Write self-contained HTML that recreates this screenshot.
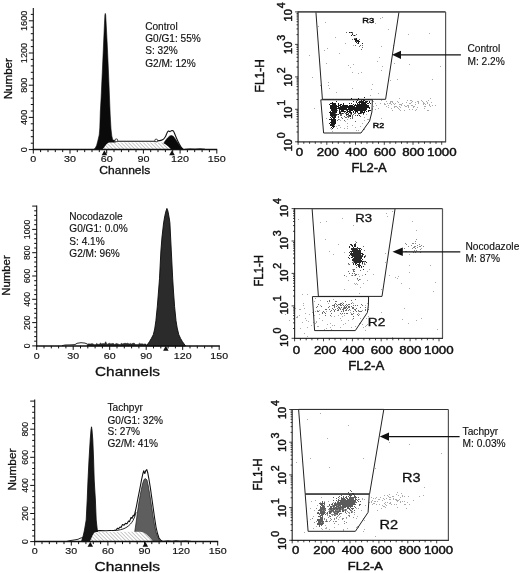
<!DOCTYPE html>
<html><head><meta charset="utf-8"><style>
html,body{margin:0;padding:0;background:#fff;}
body{width:520px;height:573px;overflow:hidden;}
svg{display:block;font-family:"Liberation Sans",sans-serif;filter:blur(0.35px);}
text{fill:#111;stroke:#111;stroke-width:0.15px;}
.b{stroke-width:0.45px;}
.m{stroke-width:0.3px;}
</style></head><body>
<svg width="520" height="573" viewBox="0 0 520 573">
<rect width="520" height="573" fill="#fff"/>
<defs>
<pattern id="h1" patternUnits="userSpaceOnUse" width="2.6" height="2.6" patternTransform="rotate(-45)"><rect width="2.6" height="2.6" fill="#fff"/><line x1="0" y1="0" x2="0" y2="2.6" stroke="#666" stroke-width="0.7"/></pattern>
</defs>
<polygon points="93.5,149.6 95.2,148.2 96.6,145.5 97.8,141 99.2,135 99.8,128 100.3,112 101.1,98 102.3,72 103.5,45 104.4,25 104.9,15 105.3,13.4 105.7,15 106.4,28 107.5,50 108.6,75 109.6,100 110.2,115 111,129 111.8,136 112.7,139.8 114,141 116,143 118,146 120,149.6" fill="#0a0a0a" stroke="#0a0a0a" stroke-width="0.6"/>
<polygon points="162,149.6 163.5,143.5 165.5,140.5 167.5,138 169.7,136 171.5,135.5 173.3,136.3 175,138.5 177,141.5 179,144.5 181,147.2 183.5,149.6" fill="#0a0a0a" stroke="#0a0a0a" stroke-width="0.6"/>
<polygon points="102.3,149.6 104,147.5 105.8,145 107.5,143.3 109,142.6 162,142.6 165,144 168,146.2 170,148.2 171.5,149.6" fill="url(#h1)" stroke="none" stroke-width="1"/>
<path d="M112.5,140.2 C112.8,140.3 113.6,140.4 114.5,140.6 C115.4,140.8 116.4,141.1 118,141.2 C119.6,141.3 120.3,141.2 124,141.2 C127.7,141.2 135.3,141.2 140,141.2 C144.7,141.2 149.1,141.2 152,141.2 C154.9,141.1 156,141 157.5,140.9 C159,140.8 160,140.7 161,140.4 C162,140.1 162.8,139.8 163.5,139.2 C164.2,138.5 164.9,137.5 165.5,136.5 C166.1,135.5 166.5,133.9 167,133 C167.5,132.1 167.9,131.2 168.4,131 C168.9,130.8 169.5,131.7 170,131.6 C170.5,131.5 170.9,130.8 171.5,130.7 C172.1,130.6 172.8,130.4 173.3,130.9 C173.8,131.4 174.2,132.5 174.6,133.5 C175,134.5 175.5,135.8 176,137 C176.5,138.2 177.2,139.8 177.8,141 C178.4,142.2 179,143.4 179.6,144.5 C180.2,145.6 180.7,146.5 181.3,147.3 C181.9,148.1 182.5,148.8 183,149.2 C183.5,149.6 184.2,149.5 184.5,149.6" fill="none" stroke="#111" stroke-width="1.1"/>
<circle cx="116.3" cy="140.3" r="1.4" fill="#fff" stroke="#111" stroke-width="0.8"/>
<circle cx="156.2" cy="140.5" r="1.4" fill="#fff" stroke="#111" stroke-width="0.8"/>
<polyline points="185,149.3 190,148.8 195,149.1 200,148.7 205,149.2" fill="none" stroke="#111" stroke-width="0.8" stroke-linejoin="round"/>
<line x1="33.3" y1="8" x2="33.3" y2="150.1" stroke="#111" stroke-width="1.1"/>
<line x1="28.8" y1="149.6" x2="33.3" y2="149.6" stroke="#111" stroke-width="1"/>
<line x1="30.8" y1="143.2" x2="33.3" y2="143.2" stroke="#111" stroke-width="1"/>
<line x1="30.8" y1="136.7" x2="33.3" y2="136.7" stroke="#111" stroke-width="1"/>
<line x1="30.8" y1="130.3" x2="33.3" y2="130.3" stroke="#111" stroke-width="1"/>
<line x1="30.8" y1="123.8" x2="33.3" y2="123.8" stroke="#111" stroke-width="1"/>
<line x1="28.8" y1="117.4" x2="33.3" y2="117.4" stroke="#111" stroke-width="1"/>
<line x1="30.8" y1="111" x2="33.3" y2="111" stroke="#111" stroke-width="1"/>
<line x1="30.8" y1="104.5" x2="33.3" y2="104.5" stroke="#111" stroke-width="1"/>
<line x1="30.8" y1="98.1" x2="33.3" y2="98.1" stroke="#111" stroke-width="1"/>
<line x1="30.8" y1="91.6" x2="33.3" y2="91.6" stroke="#111" stroke-width="1"/>
<line x1="28.8" y1="85.2" x2="33.3" y2="85.2" stroke="#111" stroke-width="1"/>
<line x1="30.8" y1="78.8" x2="33.3" y2="78.8" stroke="#111" stroke-width="1"/>
<line x1="30.8" y1="72.3" x2="33.3" y2="72.3" stroke="#111" stroke-width="1"/>
<line x1="30.8" y1="65.9" x2="33.3" y2="65.9" stroke="#111" stroke-width="1"/>
<line x1="30.8" y1="59.4" x2="33.3" y2="59.4" stroke="#111" stroke-width="1"/>
<line x1="28.8" y1="53" x2="33.3" y2="53" stroke="#111" stroke-width="1"/>
<line x1="30.8" y1="46.6" x2="33.3" y2="46.6" stroke="#111" stroke-width="1"/>
<line x1="30.8" y1="40.1" x2="33.3" y2="40.1" stroke="#111" stroke-width="1"/>
<line x1="30.8" y1="33.7" x2="33.3" y2="33.7" stroke="#111" stroke-width="1"/>
<line x1="30.8" y1="27.2" x2="33.3" y2="27.2" stroke="#111" stroke-width="1"/>
<line x1="28.8" y1="20.8" x2="33.3" y2="20.8" stroke="#111" stroke-width="1"/>
<line x1="30.8" y1="14.4" x2="33.3" y2="14.4" stroke="#111" stroke-width="1"/>
<line x1="32.8" y1="149.6" x2="217.2" y2="149.6" stroke="#111" stroke-width="1.5"/>
<line x1="33.3" y1="149.6" x2="33.3" y2="153.6" stroke="#111" stroke-width="1"/>
<line x1="40.6" y1="149.6" x2="40.6" y2="152.1" stroke="#111" stroke-width="1"/>
<line x1="48" y1="149.6" x2="48" y2="152.1" stroke="#111" stroke-width="1"/>
<line x1="55.3" y1="149.6" x2="55.3" y2="152.1" stroke="#111" stroke-width="1"/>
<line x1="62.7" y1="149.6" x2="62.7" y2="152.1" stroke="#111" stroke-width="1"/>
<line x1="70" y1="149.6" x2="70" y2="153.6" stroke="#111" stroke-width="1"/>
<line x1="77.3" y1="149.6" x2="77.3" y2="152.1" stroke="#111" stroke-width="1"/>
<line x1="84.7" y1="149.6" x2="84.7" y2="152.1" stroke="#111" stroke-width="1"/>
<line x1="92" y1="149.6" x2="92" y2="152.1" stroke="#111" stroke-width="1"/>
<line x1="99.3" y1="149.6" x2="99.3" y2="152.1" stroke="#111" stroke-width="1"/>
<line x1="106.7" y1="149.6" x2="106.7" y2="153.6" stroke="#111" stroke-width="1"/>
<line x1="114" y1="149.6" x2="114" y2="152.1" stroke="#111" stroke-width="1"/>
<line x1="121.4" y1="149.6" x2="121.4" y2="152.1" stroke="#111" stroke-width="1"/>
<line x1="128.7" y1="149.6" x2="128.7" y2="152.1" stroke="#111" stroke-width="1"/>
<line x1="136" y1="149.6" x2="136" y2="152.1" stroke="#111" stroke-width="1"/>
<line x1="143.4" y1="149.6" x2="143.4" y2="153.6" stroke="#111" stroke-width="1"/>
<line x1="150.7" y1="149.6" x2="150.7" y2="152.1" stroke="#111" stroke-width="1"/>
<line x1="158" y1="149.6" x2="158" y2="152.1" stroke="#111" stroke-width="1"/>
<line x1="165.4" y1="149.6" x2="165.4" y2="152.1" stroke="#111" stroke-width="1"/>
<line x1="172.7" y1="149.6" x2="172.7" y2="152.1" stroke="#111" stroke-width="1"/>
<line x1="180.1" y1="149.6" x2="180.1" y2="153.6" stroke="#111" stroke-width="1"/>
<line x1="187.4" y1="149.6" x2="187.4" y2="152.1" stroke="#111" stroke-width="1"/>
<line x1="194.7" y1="149.6" x2="194.7" y2="152.1" stroke="#111" stroke-width="1"/>
<line x1="202.1" y1="149.6" x2="202.1" y2="152.1" stroke="#111" stroke-width="1"/>
<line x1="209.4" y1="149.6" x2="209.4" y2="152.1" stroke="#111" stroke-width="1"/>
<line x1="216.8" y1="149.6" x2="216.8" y2="153.6" stroke="#111" stroke-width="1"/>
<text x="33.3" y="161.8" font-size="8.8" textLength="6" lengthAdjust="spacingAndGlyphs" text-anchor="middle">0</text>
<text x="70" y="161.8" font-size="8.8" textLength="12" lengthAdjust="spacingAndGlyphs" text-anchor="middle">30</text>
<text x="106.7" y="161.8" font-size="8.8" textLength="12" lengthAdjust="spacingAndGlyphs" text-anchor="middle">60</text>
<text x="143.4" y="161.8" font-size="8.8" textLength="12" lengthAdjust="spacingAndGlyphs" text-anchor="middle">90</text>
<text x="180.1" y="161.8" font-size="8.8" textLength="18" lengthAdjust="spacingAndGlyphs" text-anchor="middle">120</text>
<text x="216.8" y="161.8" font-size="8.8" textLength="18" lengthAdjust="spacingAndGlyphs" text-anchor="middle">150</text>
<text transform="translate(26.8,149.6) rotate(-90)" text-anchor="middle" font-size="9.2" textLength="5.1" lengthAdjust="spacingAndGlyphs">0</text>
<text transform="translate(26.8,117.4) rotate(-90)" text-anchor="middle" font-size="9.2" textLength="15.3" lengthAdjust="spacingAndGlyphs">400</text>
<text transform="translate(26.8,85.2) rotate(-90)" text-anchor="middle" font-size="9.2" textLength="15.3" lengthAdjust="spacingAndGlyphs">800</text>
<text transform="translate(26.8,53) rotate(-90)" text-anchor="middle" font-size="9.2" textLength="20.4" lengthAdjust="spacingAndGlyphs">1200</text>
<text transform="translate(26.8,20.8) rotate(-90)" text-anchor="middle" font-size="9.2" textLength="20.4" lengthAdjust="spacingAndGlyphs">1600</text>
<polygon points="104.4,150.2 101.7,155.2 107.2,155.2" fill="#111" stroke="none" stroke-width="1"/>
<polygon points="172,150.2 169.2,155.2 174.8,155.2" fill="#111" stroke="none" stroke-width="1"/>
<text transform="translate(12.2,78.7) rotate(-90)" text-anchor="middle" font-size="11" textLength="41.2" lengthAdjust="spacingAndGlyphs" class="m">Number</text>
<text x="99.3" y="173.8" font-size="10.8" textLength="51" lengthAdjust="spacingAndGlyphs" class="m">Channels</text>
<text x="145.2" y="29.6" font-size="10.1">Control</text>
<text x="145.2" y="42.3" font-size="10.1">G0/G1: 55%</text>
<text x="145.2" y="54.4" font-size="10.1">S: 32%</text>
<text x="145.2" y="66.5" font-size="10.1">G2/M: 12%</text>
<polygon points="146.5,345.9 149.5,341.6 151.3,338.5 153.3,334.7 154.7,329 155.9,320.7 157.3,306.7 158.4,293 159.5,278.8 160.2,265 160.9,250.9 162,237 163.6,222.9 164.9,215.5 166,211 166.9,208.4 167.5,209.5 168.3,213 169.2,218 169.9,222.9 170.6,237 171.3,250.9 172,265 172.7,278.8 173.6,293 174.6,306.7 176,320.7 177.2,328 178.8,334.7 180.6,338.5 182.4,341.6 185.5,345.9" fill="#2b2b2b" stroke="#0a0a0a" stroke-width="0.9"/>
<polyline points="62,345.7 65,345 70,344.9 75,344.6 77,343.3 81,342.7 85,343.1 87.5,344.1" fill="none" stroke="#111" stroke-width="0.9" stroke-linejoin="round"/>
<polygon points="87,345.9 87.5,344.3 88.8,343.8 90.1,344.1 91.4,343.7 92.7,343.7 94,344.6 95.3,344.7 96.6,343.4 97.9,344.3 99.2,344.3 100.5,343.1 101.8,343.9 103.1,343.4 104.4,343.9 105.7,341.7 107,344.5 108.3,343.7 109.6,343.3 110.9,343.9 112.2,343.5 113.5,343.6 114.8,344.6 116.1,343.5 117.4,343.8 118.7,344.2 120,344.7 121.3,343.3 122.6,343.9 123.9,343.5 125.2,343.3 126.5,343.6 127.8,343.2 129.1,344.1 130.4,343.4 131.7,344 133,343.2 134.3,343.3 135.6,344.5 136.9,344.5 138.2,344.4 139.5,343.2 140.8,344 142.1,343.7 143.4,344.2 144.7,343.9 146,344.1 147,345.9" fill="#2a2a2a" stroke="#111" stroke-width="0.5"/>
<line x1="36.7" y1="205.5" x2="36.7" y2="346.4" stroke="#111" stroke-width="1.1"/>
<line x1="32.2" y1="345.9" x2="36.7" y2="345.9" stroke="#111" stroke-width="1"/>
<line x1="34.2" y1="341.2" x2="36.7" y2="341.2" stroke="#111" stroke-width="1"/>
<line x1="34.2" y1="336.6" x2="36.7" y2="336.6" stroke="#111" stroke-width="1"/>
<line x1="34.2" y1="331.9" x2="36.7" y2="331.9" stroke="#111" stroke-width="1"/>
<line x1="34.2" y1="327.3" x2="36.7" y2="327.3" stroke="#111" stroke-width="1"/>
<line x1="32.2" y1="322.6" x2="36.7" y2="322.6" stroke="#111" stroke-width="1"/>
<line x1="34.2" y1="317.9" x2="36.7" y2="317.9" stroke="#111" stroke-width="1"/>
<line x1="34.2" y1="313.3" x2="36.7" y2="313.3" stroke="#111" stroke-width="1"/>
<line x1="34.2" y1="308.6" x2="36.7" y2="308.6" stroke="#111" stroke-width="1"/>
<line x1="34.2" y1="304" x2="36.7" y2="304" stroke="#111" stroke-width="1"/>
<line x1="32.2" y1="299.3" x2="36.7" y2="299.3" stroke="#111" stroke-width="1"/>
<line x1="34.2" y1="294.6" x2="36.7" y2="294.6" stroke="#111" stroke-width="1"/>
<line x1="34.2" y1="290" x2="36.7" y2="290" stroke="#111" stroke-width="1"/>
<line x1="34.2" y1="285.3" x2="36.7" y2="285.3" stroke="#111" stroke-width="1"/>
<line x1="34.2" y1="280.7" x2="36.7" y2="280.7" stroke="#111" stroke-width="1"/>
<line x1="32.2" y1="276" x2="36.7" y2="276" stroke="#111" stroke-width="1"/>
<line x1="34.2" y1="271.3" x2="36.7" y2="271.3" stroke="#111" stroke-width="1"/>
<line x1="34.2" y1="266.7" x2="36.7" y2="266.7" stroke="#111" stroke-width="1"/>
<line x1="34.2" y1="262" x2="36.7" y2="262" stroke="#111" stroke-width="1"/>
<line x1="34.2" y1="257.4" x2="36.7" y2="257.4" stroke="#111" stroke-width="1"/>
<line x1="32.2" y1="252.7" x2="36.7" y2="252.7" stroke="#111" stroke-width="1"/>
<line x1="34.2" y1="248" x2="36.7" y2="248" stroke="#111" stroke-width="1"/>
<line x1="34.2" y1="243.4" x2="36.7" y2="243.4" stroke="#111" stroke-width="1"/>
<line x1="34.2" y1="238.7" x2="36.7" y2="238.7" stroke="#111" stroke-width="1"/>
<line x1="34.2" y1="234.1" x2="36.7" y2="234.1" stroke="#111" stroke-width="1"/>
<line x1="32.2" y1="229.4" x2="36.7" y2="229.4" stroke="#111" stroke-width="1"/>
<line x1="34.2" y1="224.7" x2="36.7" y2="224.7" stroke="#111" stroke-width="1"/>
<line x1="34.2" y1="220.1" x2="36.7" y2="220.1" stroke="#111" stroke-width="1"/>
<line x1="34.2" y1="215.4" x2="36.7" y2="215.4" stroke="#111" stroke-width="1"/>
<line x1="34.2" y1="210.8" x2="36.7" y2="210.8" stroke="#111" stroke-width="1"/>
<line x1="32.2" y1="206.1" x2="36.7" y2="206.1" stroke="#111" stroke-width="1"/>
<line x1="36.2" y1="345.9" x2="219.8" y2="345.9" stroke="#111" stroke-width="1.5"/>
<line x1="36.7" y1="345.9" x2="36.7" y2="349.9" stroke="#111" stroke-width="1"/>
<line x1="44" y1="345.9" x2="44" y2="348.4" stroke="#111" stroke-width="1"/>
<line x1="51.3" y1="345.9" x2="51.3" y2="348.4" stroke="#111" stroke-width="1"/>
<line x1="58.6" y1="345.9" x2="58.6" y2="348.4" stroke="#111" stroke-width="1"/>
<line x1="65.9" y1="345.9" x2="65.9" y2="348.4" stroke="#111" stroke-width="1"/>
<line x1="73.2" y1="345.9" x2="73.2" y2="349.9" stroke="#111" stroke-width="1"/>
<line x1="80.5" y1="345.9" x2="80.5" y2="348.4" stroke="#111" stroke-width="1"/>
<line x1="87.8" y1="345.9" x2="87.8" y2="348.4" stroke="#111" stroke-width="1"/>
<line x1="95.1" y1="345.9" x2="95.1" y2="348.4" stroke="#111" stroke-width="1"/>
<line x1="102.4" y1="345.9" x2="102.4" y2="348.4" stroke="#111" stroke-width="1"/>
<line x1="109.7" y1="345.9" x2="109.7" y2="349.9" stroke="#111" stroke-width="1"/>
<line x1="117" y1="345.9" x2="117" y2="348.4" stroke="#111" stroke-width="1"/>
<line x1="124.3" y1="345.9" x2="124.3" y2="348.4" stroke="#111" stroke-width="1"/>
<line x1="131.6" y1="345.9" x2="131.6" y2="348.4" stroke="#111" stroke-width="1"/>
<line x1="138.9" y1="345.9" x2="138.9" y2="348.4" stroke="#111" stroke-width="1"/>
<line x1="146.2" y1="345.9" x2="146.2" y2="349.9" stroke="#111" stroke-width="1"/>
<line x1="153.5" y1="345.9" x2="153.5" y2="348.4" stroke="#111" stroke-width="1"/>
<line x1="160.8" y1="345.9" x2="160.8" y2="348.4" stroke="#111" stroke-width="1"/>
<line x1="168.1" y1="345.9" x2="168.1" y2="348.4" stroke="#111" stroke-width="1"/>
<line x1="175.4" y1="345.9" x2="175.4" y2="348.4" stroke="#111" stroke-width="1"/>
<line x1="182.7" y1="345.9" x2="182.7" y2="349.9" stroke="#111" stroke-width="1"/>
<line x1="190" y1="345.9" x2="190" y2="348.4" stroke="#111" stroke-width="1"/>
<line x1="197.3" y1="345.9" x2="197.3" y2="348.4" stroke="#111" stroke-width="1"/>
<line x1="204.6" y1="345.9" x2="204.6" y2="348.4" stroke="#111" stroke-width="1"/>
<line x1="211.9" y1="345.9" x2="211.9" y2="348.4" stroke="#111" stroke-width="1"/>
<line x1="219.2" y1="345.9" x2="219.2" y2="349.9" stroke="#111" stroke-width="1"/>
<text x="36.7" y="358.9" font-size="8.5" textLength="5.9" lengthAdjust="spacingAndGlyphs" text-anchor="middle">0</text>
<text x="73.2" y="358.9" font-size="8.5" textLength="11.8" lengthAdjust="spacingAndGlyphs" text-anchor="middle">30</text>
<text x="109.7" y="358.9" font-size="8.5" textLength="11.8" lengthAdjust="spacingAndGlyphs" text-anchor="middle">60</text>
<text x="146.2" y="358.9" font-size="8.5" textLength="11.8" lengthAdjust="spacingAndGlyphs" text-anchor="middle">90</text>
<text x="182.7" y="358.9" font-size="8.5" textLength="17.7" lengthAdjust="spacingAndGlyphs" text-anchor="middle">120</text>
<text x="219.2" y="358.9" font-size="8.5" textLength="17.7" lengthAdjust="spacingAndGlyphs" text-anchor="middle">150</text>
<text transform="translate(29.8,345.9) rotate(-90)" text-anchor="middle" font-size="8.6" textLength="4.9" lengthAdjust="spacingAndGlyphs">0</text>
<text transform="translate(29.8,322.6) rotate(-90)" text-anchor="middle" font-size="8.6" textLength="14.7" lengthAdjust="spacingAndGlyphs">200</text>
<text transform="translate(29.8,299.3) rotate(-90)" text-anchor="middle" font-size="8.6" textLength="14.7" lengthAdjust="spacingAndGlyphs">400</text>
<text transform="translate(29.8,276) rotate(-90)" text-anchor="middle" font-size="8.6" textLength="14.7" lengthAdjust="spacingAndGlyphs">600</text>
<text transform="translate(29.8,252.7) rotate(-90)" text-anchor="middle" font-size="8.6" textLength="14.7" lengthAdjust="spacingAndGlyphs">800</text>
<text transform="translate(29.8,229.4) rotate(-90)" text-anchor="middle" font-size="8.6" textLength="19.6" lengthAdjust="spacingAndGlyphs">1000</text>
<polygon points="165.8,345.8 163.1,350.8 168.6,350.8" fill="#111" stroke="none" stroke-width="1"/>
<text transform="translate(10.4,275.5) rotate(-90)" text-anchor="middle" font-size="10.8" textLength="40.5" lengthAdjust="spacingAndGlyphs" class="m">Number</text>
<text x="95" y="375.8" font-size="13.6" textLength="65" lengthAdjust="spacingAndGlyphs" class="m">Channels</text>
<text x="69.3" y="220" font-size="10.1">Nocodazole</text>
<text x="69.3" y="232.3" font-size="10.1">G0/G1: 0.0%</text>
<text x="69.3" y="244.6" font-size="10.1">S: 4.1%</text>
<text x="69.3" y="256.6" font-size="10.1">G2/M: 96%</text>
<polyline points="66,541.6 70,540.6 74,540 78,539.3 80,538.3 82,537.7 84,538.5" fill="none" stroke="#111" stroke-width="0.9" stroke-linejoin="round"/>
<polygon points="81.5,541.6 83.4,535 84.5,530 86.2,520 87.2,500 88,480 89,460 90.2,440 91,430 91.5,426.8 92,430 92.8,440 93.6,460 94.2,480 95.4,500 96.2,520 97.3,530 98.5,535 101,540 102,541.6" fill="#161616" stroke="#0a0a0a" stroke-width="0.8"/>
<polygon points="134.8,531.3 135.3,528 136.3,521 137.5,512 139,502 140.8,492 142.5,484 144,479.5 145.6,478.6 147,480 148.5,487 150,496 151.5,506 153,516 154.5,525 156,532 157.5,536.5 159.5,539.8 161,541.6 150,541.6 140,541.6 134,541.6" fill="#5e5e5e" stroke="#1a1a1a" stroke-width="0.7"/>
<polygon points="89.8,541.6 91,539 92.5,535.5 94,533 95.5,531.9 140,531.7 143,532.2 146,534 149,536.8 151.5,539.5 153,541.6" fill="url(#h1)" stroke="none" stroke-width="1"/>
<path d="M112,530.6 C113,530.5 116.2,530.5 118,530.2 C119.8,529.9 121.5,529.5 123,529 C124.5,528.5 125.8,527.8 127,527 C128.2,526.2 129.5,525.1 130.5,524 C131.5,522.9 132.3,521.8 133,520.5 C133.7,519.2 134.3,517.9 134.8,516.5 C135.3,515.1 135.8,512.8 136,512" fill="none" stroke="#111" stroke-width="0.9"/>
<polyline points="96.5,530.8 100,530.6 106,530.7 110,530.5 114,530.3 116,530 117.5,528.2 118.5,528.8 120,527 121,527.6 122.5,524.5 124,525.2 125.5,523.4 127,523.8 128.5,521 129.5,521.6 131,517.5 132,518.3 133.3,515.2 134.2,516 135.3,511.5 136.5,506 138,498 139.8,489 141.5,480 142.8,474 143.7,470.8 144.8,473.5 145.8,470.6 146.8,469.6 147.8,473 149,479.5 150.4,488 151.8,498 153.2,508 154.6,518 156,527 157.5,533.5 159,538 161,540.5 163,541.6" fill="none" stroke="#111" stroke-width="1.1" stroke-linejoin="round"/>
<polyline points="163,541.3 168,540.7 172,541.2 176,540.6 180,541.1 186,540.8 191,541.3" fill="none" stroke="#111" stroke-width="0.8" stroke-linejoin="round"/>
<line x1="34.7" y1="399.6" x2="34.7" y2="542.1" stroke="#111" stroke-width="1.1"/>
<line x1="30.2" y1="541.6" x2="34.7" y2="541.6" stroke="#111" stroke-width="1"/>
<line x1="32.2" y1="536" x2="34.7" y2="536" stroke="#111" stroke-width="1"/>
<line x1="32.2" y1="530.4" x2="34.7" y2="530.4" stroke="#111" stroke-width="1"/>
<line x1="32.2" y1="524.7" x2="34.7" y2="524.7" stroke="#111" stroke-width="1"/>
<line x1="32.2" y1="519.1" x2="34.7" y2="519.1" stroke="#111" stroke-width="1"/>
<line x1="30.2" y1="513.5" x2="34.7" y2="513.5" stroke="#111" stroke-width="1"/>
<line x1="32.2" y1="507.9" x2="34.7" y2="507.9" stroke="#111" stroke-width="1"/>
<line x1="32.2" y1="502.3" x2="34.7" y2="502.3" stroke="#111" stroke-width="1"/>
<line x1="32.2" y1="496.6" x2="34.7" y2="496.6" stroke="#111" stroke-width="1"/>
<line x1="32.2" y1="491" x2="34.7" y2="491" stroke="#111" stroke-width="1"/>
<line x1="30.2" y1="485.4" x2="34.7" y2="485.4" stroke="#111" stroke-width="1"/>
<line x1="32.2" y1="479.8" x2="34.7" y2="479.8" stroke="#111" stroke-width="1"/>
<line x1="32.2" y1="474.2" x2="34.7" y2="474.2" stroke="#111" stroke-width="1"/>
<line x1="32.2" y1="468.5" x2="34.7" y2="468.5" stroke="#111" stroke-width="1"/>
<line x1="32.2" y1="462.9" x2="34.7" y2="462.9" stroke="#111" stroke-width="1"/>
<line x1="30.2" y1="457.3" x2="34.7" y2="457.3" stroke="#111" stroke-width="1"/>
<line x1="32.2" y1="451.7" x2="34.7" y2="451.7" stroke="#111" stroke-width="1"/>
<line x1="32.2" y1="446.1" x2="34.7" y2="446.1" stroke="#111" stroke-width="1"/>
<line x1="32.2" y1="440.4" x2="34.7" y2="440.4" stroke="#111" stroke-width="1"/>
<line x1="32.2" y1="434.8" x2="34.7" y2="434.8" stroke="#111" stroke-width="1"/>
<line x1="30.2" y1="429.2" x2="34.7" y2="429.2" stroke="#111" stroke-width="1"/>
<line x1="32.2" y1="423.6" x2="34.7" y2="423.6" stroke="#111" stroke-width="1"/>
<line x1="32.2" y1="418" x2="34.7" y2="418" stroke="#111" stroke-width="1"/>
<line x1="32.2" y1="412.3" x2="34.7" y2="412.3" stroke="#111" stroke-width="1"/>
<line x1="32.2" y1="406.7" x2="34.7" y2="406.7" stroke="#111" stroke-width="1"/>
<line x1="30.2" y1="401.1" x2="34.7" y2="401.1" stroke="#111" stroke-width="1"/>
<line x1="34.2" y1="541.6" x2="218.2" y2="541.6" stroke="#111" stroke-width="1.5"/>
<line x1="34.7" y1="541.6" x2="34.7" y2="545.6" stroke="#111" stroke-width="1"/>
<line x1="42" y1="541.6" x2="42" y2="544.1" stroke="#111" stroke-width="1"/>
<line x1="49.3" y1="541.6" x2="49.3" y2="544.1" stroke="#111" stroke-width="1"/>
<line x1="56.7" y1="541.6" x2="56.7" y2="544.1" stroke="#111" stroke-width="1"/>
<line x1="64" y1="541.6" x2="64" y2="544.1" stroke="#111" stroke-width="1"/>
<line x1="71.3" y1="541.6" x2="71.3" y2="545.6" stroke="#111" stroke-width="1"/>
<line x1="78.6" y1="541.6" x2="78.6" y2="544.1" stroke="#111" stroke-width="1"/>
<line x1="85.9" y1="541.6" x2="85.9" y2="544.1" stroke="#111" stroke-width="1"/>
<line x1="93.3" y1="541.6" x2="93.3" y2="544.1" stroke="#111" stroke-width="1"/>
<line x1="100.6" y1="541.6" x2="100.6" y2="544.1" stroke="#111" stroke-width="1"/>
<line x1="107.9" y1="541.6" x2="107.9" y2="545.6" stroke="#111" stroke-width="1"/>
<line x1="115.2" y1="541.6" x2="115.2" y2="544.1" stroke="#111" stroke-width="1"/>
<line x1="122.5" y1="541.6" x2="122.5" y2="544.1" stroke="#111" stroke-width="1"/>
<line x1="129.9" y1="541.6" x2="129.9" y2="544.1" stroke="#111" stroke-width="1"/>
<line x1="137.2" y1="541.6" x2="137.2" y2="544.1" stroke="#111" stroke-width="1"/>
<line x1="144.5" y1="541.6" x2="144.5" y2="545.6" stroke="#111" stroke-width="1"/>
<line x1="151.8" y1="541.6" x2="151.8" y2="544.1" stroke="#111" stroke-width="1"/>
<line x1="159.1" y1="541.6" x2="159.1" y2="544.1" stroke="#111" stroke-width="1"/>
<line x1="166.5" y1="541.6" x2="166.5" y2="544.1" stroke="#111" stroke-width="1"/>
<line x1="173.8" y1="541.6" x2="173.8" y2="544.1" stroke="#111" stroke-width="1"/>
<line x1="181.1" y1="541.6" x2="181.1" y2="545.6" stroke="#111" stroke-width="1"/>
<line x1="188.4" y1="541.6" x2="188.4" y2="544.1" stroke="#111" stroke-width="1"/>
<line x1="195.7" y1="541.6" x2="195.7" y2="544.1" stroke="#111" stroke-width="1"/>
<line x1="203.1" y1="541.6" x2="203.1" y2="544.1" stroke="#111" stroke-width="1"/>
<line x1="210.4" y1="541.6" x2="210.4" y2="544.1" stroke="#111" stroke-width="1"/>
<line x1="217.7" y1="541.6" x2="217.7" y2="545.6" stroke="#111" stroke-width="1"/>
<text x="34.7" y="553.9" font-size="8.6" textLength="6" lengthAdjust="spacingAndGlyphs" text-anchor="middle">0</text>
<text x="71.3" y="553.9" font-size="8.6" textLength="11.9" lengthAdjust="spacingAndGlyphs" text-anchor="middle">30</text>
<text x="107.9" y="553.9" font-size="8.6" textLength="11.9" lengthAdjust="spacingAndGlyphs" text-anchor="middle">60</text>
<text x="144.5" y="553.9" font-size="8.6" textLength="11.9" lengthAdjust="spacingAndGlyphs" text-anchor="middle">90</text>
<text x="181.1" y="553.9" font-size="8.6" textLength="17.9" lengthAdjust="spacingAndGlyphs" text-anchor="middle">120</text>
<text x="217.7" y="553.9" font-size="8.6" textLength="17.9" lengthAdjust="spacingAndGlyphs" text-anchor="middle">150</text>
<text transform="translate(28,541.6) rotate(-90)" text-anchor="middle" font-size="8.6" textLength="4.9" lengthAdjust="spacingAndGlyphs">0</text>
<text transform="translate(28,513.5) rotate(-90)" text-anchor="middle" font-size="8.6" textLength="14.7" lengthAdjust="spacingAndGlyphs">200</text>
<text transform="translate(28,485.4) rotate(-90)" text-anchor="middle" font-size="8.6" textLength="14.7" lengthAdjust="spacingAndGlyphs">400</text>
<text transform="translate(28,457.3) rotate(-90)" text-anchor="middle" font-size="8.6" textLength="14.7" lengthAdjust="spacingAndGlyphs">600</text>
<text transform="translate(28,429.2) rotate(-90)" text-anchor="middle" font-size="8.6" textLength="14.7" lengthAdjust="spacingAndGlyphs">800</text>
<polygon points="90.3,541.8 87.5,546.8 93,546.8" fill="#111" stroke="none" stroke-width="1"/>
<polygon points="145.3,541.8 142.6,546.8 148.1,546.8" fill="#111" stroke="none" stroke-width="1"/>
<text transform="translate(16.2,469.6) rotate(-90)" text-anchor="middle" font-size="11.6" textLength="42" lengthAdjust="spacingAndGlyphs" class="m">Number</text>
<text x="94.5" y="570.9" font-size="13.6" textLength="65.5" lengthAdjust="spacingAndGlyphs" class="m">Channels</text>
<text x="107.5" y="411.2" font-size="10.1">Tachpyr</text>
<text x="107.5" y="423.5" font-size="10.1">G0/G1: 32%</text>
<text x="107.5" y="435.4" font-size="10.1">S: 27%</text>
<text x="107.5" y="447.2" font-size="10.1">G2/M: 41%</text>
<path d="M394 106h1v1h-1zM409 109h1v1h-1zM416 109h1v1h-1zM427 110h1v1h-1zM415 102h1v1h-1zM430 106h1v1h-1zM418 102h1v1h-1zM425 106h1v1h-1zM390 101h1v1h-1zM378 108h1v1h-1zM398 102h1v1h-1zM391 108h1v1h-1zM428 100h1v1h-1zM411 100h1v1h-1zM418 103h1v1h-1zM428 110h1v1h-1zM404 110h1v1h-1zM392 101h1v1h-1zM410 100h1v1h-1zM385 104h1v1h-1zM411 102h1v1h-1zM375 109h1v1h-1zM392 110h1v1h-1zM429 104h1v1h-1zM401 105h1v1h-1zM413 106h1v1h-1zM408 106h1v1h-1zM432 105h1v1h-1zM400 107h1v1h-1zM387 103h1v1h-1zM435 105h1v1h-1zM407 100h1v1h-1zM399 106h1v1h-1zM373 106h1v1h-1zM412 101h1v1h-1zM412 105h1v1h-1zM415 104h1v1h-1zM417 107h1v1h-1zM373 101h1v1h-1zM415 110h1v1h-1zM388 105h1v1h-1zM410 103h1v1h-1zM395 103h1v1h-1zM396 106h1v1h-1zM391 104h1v1h-1zM421 100h1v1h-1zM408 107h1v1h-1zM392 102h1v1h-1zM423 102h1v1h-1zM384 104h1v1h-1zM417 101h1v1h-1zM393 103h1v1h-1zM425 104h1v1h-1zM427 102h1v1h-1zM394 107h1v1h-1zM429 105h1v1h-1zM386 101h1v1h-1zM406 102h1v1h-1zM424 108h1v1h-1zM384 103h1v1h-1zM424 106h1v1h-1zM424 103h1v1h-1zM380 103h1v1h-1zM423 103h1v1h-1zM394 104h1v1h-1zM399 104h1v1h-1zM431 102h1v1h-1zM372 109h1v1h-1zM430 98h1v1h-1zM369 107h1v1h-1zM409 103h1v1h-1zM399 98h1v1h-1zM391 101h1v1h-1zM397 107h1v1h-1zM390 103h1v1h-1zM402 103h1v1h-1zM418 101h1v1h-1zM426 101h1v1h-1zM423 104h1v1h-1zM406 106h1v1h-1zM372 108h1v1h-1zM390 102h1v1h-1zM400 110h1v1h-1zM376 105h1v1h-1zM375 103h1v1h-1zM412 109h1v1h-1zM422 101h1v1h-1zM401 104h1v1h-1zM381 100h1v1h-1zM411 105h1v1h-1zM398 108h1v1h-1zM386 106h1v1h-1zM400 104h1v1h-1zM407 105h1v1h-1zM404 105h1v1h-1zM427 103h1v1h-1zM414 106h1v1h-1zM395 106h1v1h-1zM388 107h1v1h-1zM389 103h1v1h-1zM405 106h1v1h-1zM413 107h1v1h-1zM397 101h1v1h-1zM408 105h1v1h-1zM348 65h1v1h-1zM381 46h1v1h-1zM382 66h1v1h-1zM353 45h1v1h-1zM358 73h1v1h-1zM352 72h1v1h-1zM355 35h1v1h-1zM361 72h1v1h-1zM324 50h1v1h-1zM352 88h1v1h-1zM393 45h1v1h-1zM390 80h1v1h-1zM339 53h1v1h-1zM328 82h1v1h-1zM371 89h1v1h-1zM381 70h1v1h-1zM377 61h1v1h-1zM326 63h1v1h-1zM318 26h1v1h-1zM380 18h1v1h-1zM325 22h1v1h-1zM388 29h1v1h-1zM320 85h1v1h-1zM328 85h1v1h-1zM372 84h1v1h-1zM394 63h1v1h-1zM382 17h1v1h-1zM379 57h1v1h-1zM375 23h1v1h-1zM378 93h1v1h-1zM309 55h1v1h-1zM381 118h1v1h-1zM335 37h1v1h-1zM336 92h1v1h-1zM409 64h1v1h-1zM353 64h1v1h-1zM350 67h1v1h-1zM312 77h1v1h-1zM440 66h1v1h-1zM408 34h1v1h-1zM399 109h1v1h-1zM397 79h1v1h-1zM370 95h1v1h-1zM429 33h1v1h-1zM314 108h1v1h-1zM432 79h1v1h-1zM364 105h1v1h-1zM327 48h1v1h-1zM329 88h1v1h-1zM345 43h1v1h-1zM356 130h1v1h-1zM339 125h1v1h-1zM344 128h1v1h-1zM352 117h1v1h-1zM336 112h1v1h-1zM347 119h1v1h-1zM334 119h1v1h-1zM340 127h1v1h-1zM332 131h1v1h-1zM347 123h1v1h-1zM347 128h1v1h-1zM362 123h1v1h-1zM347 126h1v1h-1zM364 120h1v1h-1zM358 130h1v1h-1zM347 116h1v1h-1zM336 126h1v1h-1zM364 117h1v1h-1zM334 117h1v1h-1zM334 125h1v1h-1zM364 129h1v1h-1zM337 128h1v1h-1zM340 120h1v1h-1zM358 114h1v1h-1zM330 128h1v1h-1zM339 119h1v1h-1zM352 125h1v1h-1zM326 118h1v1h-1zM345 121h1v1h-1zM335 123h1v1h-1zM368 119h1v1h-1zM350 114h1v1h-1zM338 125h1v1h-1zM331 129h1v1h-1zM366 114h1v1h-1zM367 119h1v1h-1zM360 126h1v1h-1zM355 127h1v1h-1z" fill="#aaa"/>
<path d="M344 120h1v1h-1zM361 113h1v1h-1zM341 114h1v1h-1zM337 114h1v1h-1zM343 109h1v1h-1zM340 113h1v1h-1zM337 110h1v1h-1zM355 121h1v1h-1zM343 113h1v1h-1zM351 113h1v1h-1zM338 119h1v1h-1zM336 111h1v1h-1zM339 111h1v1h-1zM344 116h1v1h-1zM360 116h1v1h-1zM346 110h1v1h-1zM345 111h1v1h-1zM345 117h1v1h-1zM348 113h1v1h-1zM338 114h1v1h-1zM347 111h1v1h-1zM341 117h1v1h-1zM329 112h1v1h-1zM334 119h1v1h-1zM352 116h1v1h-1zM350 115h1v1h-1zM349 108h1v1h-1zM349 116h1v1h-1zM332 117h1v1h-1zM353 109h1v1h-1zM341 113h1v1h-1zM341 115h1v1h-1zM333 113h1v1h-1zM348 117h1v1h-1zM346 113h1v1h-1zM353 107h1v1h-1zM355 113h1v1h-1zM333 112h1v1h-1zM343 111h1v1h-1zM353 111h1v1h-1zM333 111h1v1h-1zM363 114h1v1h-1zM340 111h1v1h-1zM335 113h1v1h-1zM350 118h1v1h-1zM357 115h1v1h-1zM350 113h1v1h-1zM350 109h1v1h-1zM355 115h1v1h-1zM346 115h1v1h-1zM337 120h1v1h-1zM344 112h1v1h-1zM355 110h1v1h-1zM360 112h1v1h-1zM354 106h1v1h-1zM348 115h1v1h-1zM352 115h1v1h-1zM352 117h1v1h-1zM342 110h1v1h-1zM333 116h1v1h-1zM342 118h1v1h-1zM344 111h1v1h-1zM338 117h1v1h-1zM353 114h1v1h-1zM347 112h1v1h-1zM340 115h1v1h-1zM348 116h1v1h-1zM351 114h1v1h-1zM352 118h1v1h-1zM348 114h1v1h-1zM336 115h1v1h-1zM345 113h1v1h-1zM338 116h1v1h-1zM347 116h1v1h-1zM340 114h1v1h-1zM339 112h1v1h-1zM349 110h1v1h-1zM354 113h1v1h-1zM346 117h1v1h-1zM352 109h1v1h-1zM355 38h1v1h-1zM360 45h1v1h-1zM350 32h1v1h-1zM352 33h1v1h-1zM361 49h1v1h-1zM356 34h1v1h-1zM362 45h1v1h-1zM357 40h1v1h-1zM353 35h1v1h-1zM352 39h1v1h-1zM362 47h1v1h-1zM359 39h1v1h-1zM359 46h1v1h-1zM352 32h1v1h-1zM354 38h1v1h-1zM356 41h1v1h-1zM346 32h1v1h-1zM358 42h1v1h-1zM356 40h1v1h-1zM355 45h1v1h-1zM357 43h1v1h-1z" fill="#666"/>
<path d="M331 110h1v1h-1zM334 107h1v1h-1zM333 105h1v1h-1zM334 110h1v1h-1zM352 108h1v1h-1zM364 108h1v1h-1zM346 105h1v1h-1zM357 106h1v1h-1zM339 110h1v1h-1zM338 108h1v1h-1zM338 107h1v1h-1zM347 112h1v1h-1zM351 105h1v1h-1zM360 109h1v1h-1zM348 111h1v1h-1zM352 106h1v1h-1zM347 109h1v1h-1zM333 109h1v1h-1zM331 106h1v1h-1zM344 105h1v1h-1zM336 114h1v1h-1zM342 108h1v1h-1zM340 112h1v1h-1zM359 102h1v1h-1zM353 106h1v1h-1zM348 106h1v1h-1zM361 106h1v1h-1zM348 108h1v1h-1zM342 107h1v1h-1zM334 105h1v1h-1zM349 107h1v1h-1zM356 110h1v1h-1zM343 104h1v1h-1zM342 109h1v1h-1zM346 109h1v1h-1zM356 101h1v1h-1zM365 103h1v1h-1zM336 110h1v1h-1zM348 107h1v1h-1zM362 104h1v1h-1zM339 107h1v1h-1zM337 108h1v1h-1zM354 108h1v1h-1zM358 107h1v1h-1zM339 108h1v1h-1zM344 109h1v1h-1zM334 109h1v1h-1zM358 108h1v1h-1zM331 108h1v1h-1zM356 105h1v1h-1zM341 111h1v1h-1zM356 107h1v1h-1zM350 109h1v1h-1zM330 103h1v1h-1zM360 106h1v1h-1zM363 102h1v1h-1zM344 108h1v1h-1zM336 101h1v1h-1zM349 109h1v1h-1zM347 105h1v1h-1zM364 107h1v1h-1zM347 110h1v1h-1zM361 105h1v1h-1zM331 105h1v1h-1zM341 107h1v1h-1zM363 104h1v1h-1zM363 108h1v1h-1zM359 108h1v1h-1zM364 105h1v1h-1zM340 108h1v1h-1zM339 109h1v1h-1zM349 103h1v1h-1zM353 107h1v1h-1zM341 108h1v1h-1zM351 109h1v1h-1zM365 109h1v1h-1zM353 108h1v1h-1zM357 108h1v1h-1zM359 106h1v1h-1zM362 105h1v1h-1zM332 112h1v1h-1zM341 109h1v1h-1zM334 111h1v1h-1zM335 112h1v1h-1zM366 105h1v1h-1zM345 107h1v1h-1zM355 108h1v1h-1zM344 107h1v1h-1zM335 104h1v1h-1zM361 112h1v1h-1zM360 108h1v1h-1zM341 110h1v1h-1zM333 103h1v1h-1zM364 102h1v1h-1zM359 109h1v1h-1zM347 111h1v1h-1zM367 103h1v1h-1zM359 113h1v1h-1zM355 110h1v1h-1zM353 109h1v1h-1zM360 105h1v1h-1zM357 111h1v1h-1zM344 111h1v1h-1zM355 109h1v1h-1zM355 105h1v1h-1zM336 109h1v1h-1zM351 107h1v1h-1zM357 103h1v1h-1zM360 107h1v1h-1zM336 105h1v1h-1zM338 105h1v1h-1zM335 107h1v1h-1zM332 105h1v1h-1zM349 112h1v1h-1zM356 109h1v1h-1zM357 107h1v1h-1zM330 107h1v1h-1zM343 105h1v1h-1zM356 108h1v1h-1zM349 115h1v1h-1zM359 104h1v1h-1zM345 109h1v1h-1zM361 110h1v1h-1zM331 107h1v1h-1zM339 111h1v1h-1zM343 109h1v1h-1zM355 111h1v1h-1zM353 111h1v1h-1zM343 107h1v1h-1zM359 105h1v1h-1zM351 113h1v1h-1zM355 112h1v1h-1zM362 111h1v1h-1zM342 105h1v1h-1zM332 106h1v1h-1zM345 108h1v1h-1zM359 107h1v1h-1zM356 106h1v1h-1zM366 101h1v1h-1zM343 108h1v1h-1zM350 112h1v1h-1zM349 111h1v1h-1zM336 108h1v1h-1zM332 107h1v1h-1zM348 109h1v1h-1zM339 113h1v1h-1zM336 106h1v1h-1zM346 114h1v1h-1zM338 114h1v1h-1zM358 102h1v1h-1zM334 103h1v1h-1zM335 109h1v1h-1zM342 106h1v1h-1zM354 110h1v1h-1zM345 105h1v1h-1zM358 110h1v1h-1zM351 108h1v1h-1zM354 107h1v1h-1zM360 104h1v1h-1zM330 105h1v1h-1zM363 107h1v1h-1zM357 109h1v1h-1zM334 104h1v1h-1zM336 107h1v1h-1zM364 104h1v1h-1zM347 114h1v1h-1zM335 105h1v1h-1zM342 110h1v1h-1zM343 111h1v1h-1zM340 105h1v1h-1zM354 105h1v1h-1zM361 104h1v1h-1zM350 115h1v1h-1zM333 114h1v1h-1zM335 106h1v1h-1zM367 107h1v1h-1zM349 105h1v1h-1zM354 109h1v1h-1zM349 108h1v1h-1zM332 102h1v1h-1zM363 105h1v1h-1zM350 107h1v1h-1zM348 113h1v1h-1zM350 110h1v1h-1zM332 103h1v1h-1zM343 106h1v1h-1zM350 105h1v1h-1zM362 102h1v1h-1zM366 108h1v1h-1zM363 110h1v1h-1zM339 105h1v1h-1zM339 112h1v1h-1zM343 110h1v1h-1zM340 113h1v1h-1zM340 106h1v1h-1zM342 111h1v1h-1zM349 110h1v1h-1zM343 103h1v1h-1zM340 109h1v1h-1zM366 102h1v1h-1zM351 110h1v1h-1zM334 106h1v1h-1zM362 109h1v1h-1zM349 106h1v1h-1zM362 110h1v1h-1zM361 102h1v1h-1zM366 106h1v1h-1zM358 98h1v1h-1zM363 109h1v1h-1zM355 104h1v1h-1zM350 108h1v1h-1zM335 103h1v1h-1zM338 106h1v1h-1zM346 107h1v1h-1zM351 106h1v1h-1zM346 108h1v1h-1zM361 107h1v1h-1zM346 106h1v1h-1zM350 111h1v1h-1zM358 109h1v1h-1zM333 108h1v1h-1zM355 107h1v1h-1zM357 115h1v1h-1zM361 103h1v1h-1zM336 111h1v1h-1zM361 100h1v1h-1zM357 105h1v1h-1zM363 106h1v1h-1zM353 104h1v1h-1zM338 103h1v1h-1zM365 102h1v1h-1zM342 113h1v1h-1zM352 110h1v1h-1zM345 106h1v1h-1zM357 104h1v1h-1zM353 101h1v1h-1zM363 103h1v1h-1zM338 104h1v1h-1zM331 109h1v1h-1zM351 112h1v1h-1zM344 106h1v1h-1zM340 107h1v1h-1zM350 106h1v1h-1zM359 103h1v1h-1zM354 106h1v1h-1zM351 103h1v1h-1zM341 104h1v1h-1zM362 103h1v1h-1zM352 109h1v1h-1zM366 107h1v1h-1zM340 104h1v1h-1zM362 106h1v1h-1zM341 106h1v1h-1zM361 109h1v1h-1zM347 107h1v1h-1zM360 110h1v1h-1zM364 109h1v1h-1zM333 106h1v1h-1zM337 106h1v1h-1zM352 105h1v1h-1zM335 108h1v1h-1zM345 111h1v1h-1zM353 112h1v1h-1zM334 113h1v1h-1zM358 106h1v1h-1zM367 101h1v1h-1zM356 111h1v1h-1zM346 112h1v1h-1zM335 111h1v1h-1zM362 108h1v1h-1zM332 109h1v1h-1zM350 116h1v1h-1zM347 106h1v1h-1zM352 107h1v1h-1zM365 105h1v1h-1zM365 104h1v1h-1zM368 105h1v1h-1zM361 108h1v1h-1zM363 112h1v1h-1zM358 113h1v1h-1zM366 109h1v1h-1zM362 112h1v1h-1zM364 103h1v1h-1zM365 108h1v1h-1zM369 102h1v1h-1zM359 110h1v1h-1zM359 115h1v1h-1zM364 106h1v1h-1zM368 111h1v1h-1zM357 100h1v1h-1zM358 105h1v1h-1zM359 101h1v1h-1zM364 110h1v1h-1zM366 104h1v1h-1zM365 107h1v1h-1zM368 110h1v1h-1zM358 104h1v1h-1zM360 111h1v1h-1zM369 107h1v1h-1zM361 111h1v1h-1zM360 112h1v1h-1zM363 99h1v1h-1zM370 103h1v1h-1zM366 111h1v1h-1zM360 102h1v1h-1zM362 107h1v1h-1zM368 106h1v1h-1zM361 101h1v1h-1zM356 102h1v1h-1zM369 110h1v1h-1zM360 113h1v1h-1zM363 100h1v1h-1zM351 98h1v1h-1zM364 111h1v1h-1zM362 99h1v1h-1zM362 101h1v1h-1zM368 107h1v1h-1zM364 112h1v1h-1zM369 101h1v1h-1zM365 101h1v1h-1zM367 105h1v1h-1zM368 103h1v1h-1zM360 101h1v1h-1zM365 110h1v1h-1zM356 99h1v1h-1zM365 106h1v1h-1zM364 97h1v1h-1zM357 112h1v1h-1zM370 110h1v1h-1zM367 106h1v1h-1zM369 108h1v1h-1zM357 110h1v1h-1zM363 101h1v1h-1zM368 99h1v1h-1zM363 113h1v1h-1zM364 100h1v1h-1zM333 121h1v1h-1zM334 122h1v1h-1zM333 112h1v1h-1zM333 119h1v1h-1zM332 114h1v1h-1zM335 117h1v1h-1zM333 125h1v1h-1zM335 120h1v1h-1zM333 111h1v1h-1zM331 112h1v1h-1zM331 122h1v1h-1zM330 117h1v1h-1zM333 107h1v1h-1zM334 112h1v1h-1zM330 122h1v1h-1zM332 116h1v1h-1zM335 116h1v1h-1zM332 111h1v1h-1zM333 120h1v1h-1zM334 120h1v1h-1zM334 118h1v1h-1zM334 116h1v1h-1zM332 104h1v1h-1zM332 110h1v1h-1zM334 126h1v1h-1zM332 121h1v1h-1zM330 124h1v1h-1zM333 124h1v1h-1zM332 113h1v1h-1zM331 123h1v1h-1zM330 108h1v1h-1zM333 115h1v1h-1zM330 115h1v1h-1zM332 119h1v1h-1zM332 125h1v1h-1zM332 117h1v1h-1zM330 112h1v1h-1zM333 123h1v1h-1zM335 110h1v1h-1zM331 116h1v1h-1zM332 122h1v1h-1zM333 118h1v1h-1zM331 113h1v1h-1zM334 114h1v1h-1zM335 119h1v1h-1zM335 114h1v1h-1zM334 108h1v1h-1zM332 120h1v1h-1zM334 115h1v1h-1zM331 114h1v1h-1zM335 115h1v1h-1zM331 125h1v1h-1zM330 111h1v1h-1zM336 112h1v1h-1zM332 126h1v1h-1zM334 119h1v1h-1zM332 124h1v1h-1zM333 104h1v1h-1zM333 110h1v1h-1zM331 121h1v1h-1zM330 114h1v1h-1zM334 117h1v1h-1zM333 122h1v1h-1zM334 123h1v1h-1zM333 126h1v1h-1zM335 121h1v1h-1zM331 120h1v1h-1zM332 123h1v1h-1zM334 121h1v1h-1zM330 125h1v1h-1zM331 124h1v1h-1zM330 113h1v1h-1zM330 119h1v1h-1zM333 113h1v1h-1zM329 119h1v1h-1zM329 112h1v1h-1zM332 128h1v1h-1zM332 115h1v1h-1zM331 119h1v1h-1zM335 123h1v1h-1zM331 118h1v1h-1zM331 127h1v1h-1zM329 123h1v1h-1zM332 108h1v1h-1zM329 104h1v1h-1zM330 106h1v1h-1zM331 115h1v1h-1zM333 127h1v1h-1zM333 117h1v1h-1zM335 122h1v1h-1zM331 103h1v1h-1zM334 124h1v1h-1zM357 40h1v1h-1zM358 43h1v1h-1zM355 40h1v1h-1zM351 32h1v1h-1zM356 39h1v1h-1zM354 39h1v1h-1zM362 43h1v1h-1zM351 35h1v1h-1zM356 38h1v1h-1zM355 39h1v1h-1zM354 35h1v1h-1zM356 40h1v1h-1zM349 32h1v1h-1zM352 34h1v1h-1zM357 41h1v1h-1zM358 41h1v1h-1zM358 42h1v1h-1zM356 42h1v1h-1zM359 41h1v1h-1zM355 41h1v1h-1zM358 40h1v1h-1z" fill="#1a1a1a"/>
<polygon points="315.9,11.8 399,11.8 385.6,99.3 322.4,99.3" fill="none" stroke="#222" stroke-width="1"/>
<polygon points="320.8,99.8 372.4,99.8 371.9,112 369.6,121 361,133 323.6,133" fill="none" stroke="#222" stroke-width="1"/>
<line x1="298.1" y1="11.9" x2="445.6" y2="11.9" stroke="#555" stroke-width="1.6"/>
<line x1="445.6" y1="11.9" x2="445.6" y2="141.8" stroke="#555" stroke-width="1.2"/>
<line x1="298.1" y1="11.4" x2="298.1" y2="142.3" stroke="#333" stroke-width="1.2"/>
<line x1="297.6" y1="141.8" x2="446.1" y2="141.8" stroke="#333" stroke-width="1.2"/>
<line x1="295.1" y1="141.8" x2="298.1" y2="141.8" stroke="#111" stroke-width="0.8"/>
<line x1="296.5" y1="132" x2="298.1" y2="132" stroke="#111" stroke-width="0.8"/>
<line x1="296.5" y1="126.3" x2="298.1" y2="126.3" stroke="#111" stroke-width="0.8"/>
<line x1="296.5" y1="122.2" x2="298.1" y2="122.2" stroke="#111" stroke-width="0.8"/>
<line x1="296.5" y1="119.1" x2="298.1" y2="119.1" stroke="#111" stroke-width="0.8"/>
<line x1="296.5" y1="116.5" x2="298.1" y2="116.5" stroke="#111" stroke-width="0.8"/>
<line x1="296.5" y1="114.4" x2="298.1" y2="114.4" stroke="#111" stroke-width="0.8"/>
<line x1="296.5" y1="112.5" x2="298.1" y2="112.5" stroke="#111" stroke-width="0.8"/>
<line x1="296.5" y1="110.8" x2="298.1" y2="110.8" stroke="#111" stroke-width="0.8"/>
<line x1="295.1" y1="109.3" x2="298.1" y2="109.3" stroke="#111" stroke-width="0.8"/>
<line x1="296.5" y1="99.5" x2="298.1" y2="99.5" stroke="#111" stroke-width="0.8"/>
<line x1="296.5" y1="93.8" x2="298.1" y2="93.8" stroke="#111" stroke-width="0.8"/>
<line x1="296.5" y1="89.8" x2="298.1" y2="89.8" stroke="#111" stroke-width="0.8"/>
<line x1="296.5" y1="86.6" x2="298.1" y2="86.6" stroke="#111" stroke-width="0.8"/>
<line x1="296.5" y1="84.1" x2="298.1" y2="84.1" stroke="#111" stroke-width="0.8"/>
<line x1="296.5" y1="81.9" x2="298.1" y2="81.9" stroke="#111" stroke-width="0.8"/>
<line x1="296.5" y1="80" x2="298.1" y2="80" stroke="#111" stroke-width="0.8"/>
<line x1="296.5" y1="78.3" x2="298.1" y2="78.3" stroke="#111" stroke-width="0.8"/>
<line x1="295.1" y1="76.9" x2="298.1" y2="76.9" stroke="#111" stroke-width="0.8"/>
<line x1="296.5" y1="67.1" x2="298.1" y2="67.1" stroke="#111" stroke-width="0.8"/>
<line x1="296.5" y1="61.4" x2="298.1" y2="61.4" stroke="#111" stroke-width="0.8"/>
<line x1="296.5" y1="57.3" x2="298.1" y2="57.3" stroke="#111" stroke-width="0.8"/>
<line x1="296.5" y1="54.2" x2="298.1" y2="54.2" stroke="#111" stroke-width="0.8"/>
<line x1="296.5" y1="51.6" x2="298.1" y2="51.6" stroke="#111" stroke-width="0.8"/>
<line x1="296.5" y1="49.4" x2="298.1" y2="49.4" stroke="#111" stroke-width="0.8"/>
<line x1="296.5" y1="47.5" x2="298.1" y2="47.5" stroke="#111" stroke-width="0.8"/>
<line x1="296.5" y1="45.9" x2="298.1" y2="45.9" stroke="#111" stroke-width="0.8"/>
<line x1="295.1" y1="44.4" x2="298.1" y2="44.4" stroke="#111" stroke-width="0.8"/>
<line x1="296.5" y1="34.6" x2="298.1" y2="34.6" stroke="#111" stroke-width="0.8"/>
<line x1="296.5" y1="28.9" x2="298.1" y2="28.9" stroke="#111" stroke-width="0.8"/>
<line x1="296.5" y1="24.8" x2="298.1" y2="24.8" stroke="#111" stroke-width="0.8"/>
<line x1="296.5" y1="21.7" x2="298.1" y2="21.7" stroke="#111" stroke-width="0.8"/>
<line x1="296.5" y1="19.1" x2="298.1" y2="19.1" stroke="#111" stroke-width="0.8"/>
<line x1="296.5" y1="16.9" x2="298.1" y2="16.9" stroke="#111" stroke-width="0.8"/>
<line x1="296.5" y1="15" x2="298.1" y2="15" stroke="#111" stroke-width="0.8"/>
<line x1="296.5" y1="13.4" x2="298.1" y2="13.4" stroke="#111" stroke-width="0.8"/>
<line x1="295.1" y1="11.9" x2="298.1" y2="11.9" stroke="#111" stroke-width="0.8"/>
<line x1="298.1" y1="141.8" x2="298.1" y2="144.8" stroke="#111" stroke-width="0.8"/>
<line x1="303.8" y1="141.8" x2="303.8" y2="143.8" stroke="#111" stroke-width="0.8"/>
<line x1="309.6" y1="141.8" x2="309.6" y2="143.8" stroke="#111" stroke-width="0.8"/>
<line x1="315.3" y1="141.8" x2="315.3" y2="143.8" stroke="#111" stroke-width="0.8"/>
<line x1="321.1" y1="141.8" x2="321.1" y2="143.8" stroke="#111" stroke-width="0.8"/>
<line x1="326.8" y1="141.8" x2="326.8" y2="144.8" stroke="#111" stroke-width="0.8"/>
<line x1="332.6" y1="141.8" x2="332.6" y2="143.8" stroke="#111" stroke-width="0.8"/>
<line x1="338.3" y1="141.8" x2="338.3" y2="143.8" stroke="#111" stroke-width="0.8"/>
<line x1="344.1" y1="141.8" x2="344.1" y2="143.8" stroke="#111" stroke-width="0.8"/>
<line x1="349.8" y1="141.8" x2="349.8" y2="143.8" stroke="#111" stroke-width="0.8"/>
<line x1="355.5" y1="141.8" x2="355.5" y2="144.8" stroke="#111" stroke-width="0.8"/>
<line x1="361.3" y1="141.8" x2="361.3" y2="143.8" stroke="#111" stroke-width="0.8"/>
<line x1="367" y1="141.8" x2="367" y2="143.8" stroke="#111" stroke-width="0.8"/>
<line x1="372.8" y1="141.8" x2="372.8" y2="143.8" stroke="#111" stroke-width="0.8"/>
<line x1="378.5" y1="141.8" x2="378.5" y2="143.8" stroke="#111" stroke-width="0.8"/>
<line x1="384.3" y1="141.8" x2="384.3" y2="144.8" stroke="#111" stroke-width="0.8"/>
<line x1="390" y1="141.8" x2="390" y2="143.8" stroke="#111" stroke-width="0.8"/>
<line x1="395.7" y1="141.8" x2="395.7" y2="143.8" stroke="#111" stroke-width="0.8"/>
<line x1="401.5" y1="141.8" x2="401.5" y2="143.8" stroke="#111" stroke-width="0.8"/>
<line x1="407.2" y1="141.8" x2="407.2" y2="143.8" stroke="#111" stroke-width="0.8"/>
<line x1="413" y1="141.8" x2="413" y2="144.8" stroke="#111" stroke-width="0.8"/>
<line x1="418.7" y1="141.8" x2="418.7" y2="143.8" stroke="#111" stroke-width="0.8"/>
<line x1="424.5" y1="141.8" x2="424.5" y2="143.8" stroke="#111" stroke-width="0.8"/>
<line x1="430.2" y1="141.8" x2="430.2" y2="143.8" stroke="#111" stroke-width="0.8"/>
<line x1="436" y1="141.8" x2="436" y2="143.8" stroke="#111" stroke-width="0.8"/>
<line x1="441.7" y1="141.8" x2="441.7" y2="144.8" stroke="#111" stroke-width="0.8"/>
<text class="b" transform="translate(292.2,141.8) rotate(-90)" text-anchor="middle" font-size="11">10<tspan font-size="10.6" dx="0.9" dy="-6.9">0</tspan></text>
<text class="b" transform="translate(292.2,109.3) rotate(-90)" text-anchor="middle" font-size="11">10<tspan font-size="10.6" dx="0.9" dy="-6.9">1</tspan></text>
<text class="b" transform="translate(292.2,76.9) rotate(-90)" text-anchor="middle" font-size="11">10<tspan font-size="10.6" dx="0.9" dy="-6.9">2</tspan></text>
<text class="b" transform="translate(292.2,44.4) rotate(-90)" text-anchor="middle" font-size="11">10<tspan font-size="10.6" dx="0.9" dy="-6.9">3</tspan></text>
<text class="b" transform="translate(292.2,11.9) rotate(-90)" text-anchor="middle" font-size="11">10<tspan font-size="10.6" dx="0.9" dy="-6.9">4</tspan></text>
<text x="299.4" y="156.3" font-size="11.5" textLength="7.4" lengthAdjust="spacingAndGlyphs" text-anchor="middle" class="b">0</text>
<text x="327.9" y="156.3" font-size="11.5" textLength="22.2" lengthAdjust="spacingAndGlyphs" text-anchor="middle" class="b">200</text>
<text x="356.4" y="156.3" font-size="11.5" textLength="22.2" lengthAdjust="spacingAndGlyphs" text-anchor="middle" class="b">400</text>
<text x="384.8" y="156.3" font-size="11.5" textLength="22.2" lengthAdjust="spacingAndGlyphs" text-anchor="middle" class="b">600</text>
<text x="413.3" y="156.3" font-size="11.5" textLength="22.2" lengthAdjust="spacingAndGlyphs" text-anchor="middle" class="b">800</text>
<text x="441.8" y="156.3" font-size="11.5" textLength="29.6" lengthAdjust="spacingAndGlyphs" text-anchor="middle" class="b">1000</text>
<text x="362.2" y="23.3" font-size="7.6" textLength="12" lengthAdjust="spacingAndGlyphs" class="b">R3</text>
<text x="372.8" y="127.9" font-size="7.6" textLength="11.4" lengthAdjust="spacingAndGlyphs" class="b">R2</text>
<text transform="translate(264.4,75.8) rotate(-90)" text-anchor="middle" font-size="12.8" textLength="33.2" lengthAdjust="spacingAndGlyphs" class="b">FL1-H</text>
<text x="351.4" y="171.6" font-size="12.2" textLength="35.4" lengthAdjust="spacingAndGlyphs" class="b">FL2-A</text>
<line x1="400" y1="54.8" x2="460.9" y2="54.8" stroke="#111" stroke-width="1.3"/>
<polygon points="392.1,54.8 401,50.7 401,58.9" fill="#111" stroke="none" stroke-width="1"/>
<text x="467.4" y="52.1" font-size="10.2">Control</text>
<text x="467.4" y="64.5" font-size="10.2">M: 2.2%</text>
<path d="M385 253h1v1h-1zM401 283h1v1h-1zM421 248h1v1h-1zM306 320h1v1h-1zM381 312h1v1h-1zM404 308h1v1h-1zM348 320h1v1h-1zM385 262h1v1h-1zM320 222h1v1h-1zM329 251h1v1h-1zM344 289h1v1h-1zM435 282h1v1h-1zM392 211h1v1h-1zM397 278h1v1h-1zM409 254h1v1h-1zM389 275h1v1h-1zM409 265h1v1h-1zM416 320h1v1h-1zM373 274h1v1h-1zM398 276h1v1h-1zM437 329h1v1h-1zM368 297h1v1h-1zM311 325h1v1h-1zM386 213h1v1h-1zM297 317h1v1h-1zM409 288h1v1h-1zM355 241h1v1h-1zM366 325h1v1h-1zM387 216h1v1h-1zM326 221h1v1h-1zM421 318h1v1h-1zM430 265h1v1h-1zM342 218h1v1h-1zM333 254h1v1h-1zM352 253h1v1h-1zM402 319h1v1h-1zM351 314h1v1h-1zM338 244h1v1h-1zM412 221h1v1h-1zM307 336h1v1h-1zM364 262h1v1h-1zM408 323h1v1h-1zM350 312h1v1h-1zM315 323h1v1h-1zM356 259h1v1h-1zM298 219h1v1h-1zM353 225h1v1h-1zM392 337h1v1h-1zM338 306h1v1h-1zM381 289h1v1h-1zM409 272h1v1h-1zM416 230h1v1h-1zM395 277h1v1h-1zM325 239h1v1h-1zM433 291h1v1h-1zM341 314h1v1h-1zM360 318h1v1h-1zM326 328h1v1h-1zM360 323h1v1h-1zM352 319h1v1h-1zM331 329h1v1h-1zM352 302h1v1h-1zM358 311h1v1h-1zM317 326h1v1h-1zM326 311h1v1h-1zM319 314h1v1h-1zM343 324h1v1h-1zM365 326h1v1h-1zM350 310h1v1h-1zM365 305h1v1h-1zM331 316h1v1h-1zM334 316h1v1h-1zM320 305h1v1h-1zM315 311h1v1h-1zM327 324h1v1h-1zM328 303h1v1h-1zM353 303h1v1h-1zM359 314h1v1h-1zM322 320h1v1h-1zM368 307h1v1h-1zM344 315h1v1h-1zM365 330h1v1h-1zM317 310h1v1h-1zM342 316h1v1h-1zM315 298h1v1h-1zM362 310h1v1h-1zM338 315h1v1h-1zM355 326h1v1h-1zM319 318h1v1h-1zM314 315h1v1h-1zM358 313h1v1h-1zM334 325h1v1h-1zM351 327h1v1h-1zM343 307h1v1h-1zM351 313h1v1h-1zM314 301h1v1h-1zM366 318h1v1h-1zM316 322h1v1h-1zM355 299h1v1h-1zM367 303h1v1h-1zM341 320h1v1h-1zM340 308h1v1h-1zM340 318h1v1h-1zM367 324h1v1h-1zM340 309h1v1h-1zM363 327h1v1h-1zM330 323h1v1h-1zM333 299h1v1h-1zM340 327h1v1h-1zM359 323h1v1h-1zM330 327h1v1h-1zM319 310h1v1h-1zM362 324h1v1h-1zM368 316h1v1h-1zM342 302h1v1h-1zM332 325h1v1h-1zM324 329h1v1h-1zM320 300h1v1h-1zM345 323h1v1h-1zM303 305h1v1h-1zM304 308h1v1h-1zM302 322h1v1h-1zM305 318h1v1h-1zM307 327h1v1h-1zM299 309h1v1h-1zM300 309h1v1h-1zM305 313h1v1h-1zM307 294h1v1h-1zM295 308h1v1h-1zM309 314h1v1h-1zM313 322h1v1h-1zM303 303h1v1h-1zM297 316h1v1h-1zM289 320h1v1h-1zM316 321h1v1h-1zM318 326h1v1h-1zM304 333h1v1h-1zM300 328h1v1h-1zM285 314h1v1h-1zM296 317h1v1h-1zM299 315h1v1h-1zM312 312h1v1h-1zM308 321h1v1h-1zM302 294h1v1h-1zM344 252h1v1h-1zM359 293h1v1h-1zM357 260h1v1h-1zM362 275h1v1h-1zM351 275h1v1h-1zM357 279h1v1h-1zM360 279h1v1h-1zM353 262h1v1h-1zM363 283h1v1h-1zM367 280h1v1h-1zM354 262h1v1h-1zM369 269h1v1h-1zM367 271h1v1h-1zM348 264h1v1h-1zM360 287h1v1h-1zM357 284h1v1h-1zM365 264h1v1h-1zM359 276h1v1h-1zM348 280h1v1h-1zM359 257h1v1h-1zM352 262h1v1h-1zM352 269h1v1h-1zM362 264h1v1h-1zM354 283h1v1h-1zM358 274h1v1h-1zM346 276h1v1h-1zM354 275h1v1h-1zM355 284h1v1h-1zM356 283h1v1h-1z" fill="#aaa"/>
<path d="M420 246h1v1h-1zM414 246h1v1h-1zM420 249h1v1h-1zM405 251h1v1h-1zM406 244h1v1h-1zM405 243h1v1h-1zM415 248h1v1h-1zM415 241h1v1h-1zM416 250h1v1h-1zM404 248h1v1h-1zM412 243h1v1h-1zM411 245h1v1h-1zM412 248h1v1h-1zM415 246h1v1h-1zM413 247h1v1h-1zM420 252h1v1h-1zM419 244h1v1h-1zM423 246h1v1h-1zM408 246h1v1h-1zM417 247h1v1h-1zM415 243h1v1h-1zM419 246h1v1h-1zM414 250h1v1h-1zM421 245h1v1h-1zM414 247h1v1h-1zM417 245h1v1h-1zM416 239h1v1h-1zM413 252h1v1h-1zM413 243h1v1h-1zM406 251h1v1h-1zM415 252h1v1h-1z" fill="#888"/>
<path d="M338 307h1v1h-1zM331 313h1v1h-1zM347 313h1v1h-1zM355 309h1v1h-1zM325 309h1v1h-1zM349 307h1v1h-1zM318 311h1v1h-1zM316 307h1v1h-1zM365 310h1v1h-1zM342 309h1v1h-1zM329 306h1v1h-1zM340 304h1v1h-1zM343 311h1v1h-1zM338 309h1v1h-1zM345 310h1v1h-1zM340 309h1v1h-1zM330 315h1v1h-1zM351 303h1v1h-1zM345 308h1v1h-1zM334 311h1v1h-1zM345 307h1v1h-1zM335 301h1v1h-1zM340 313h1v1h-1zM346 306h1v1h-1zM334 304h1v1h-1zM343 305h1v1h-1zM341 307h1v1h-1zM356 308h1v1h-1zM334 310h1v1h-1zM353 318h1v1h-1zM329 309h1v1h-1zM325 313h1v1h-1zM357 314h1v1h-1zM352 314h1v1h-1zM326 309h1v1h-1zM344 313h1v1h-1zM346 313h1v1h-1zM327 301h1v1h-1zM365 307h1v1h-1zM353 313h1v1h-1zM361 311h1v1h-1zM348 306h1v1h-1zM365 309h1v1h-1zM330 311h1v1h-1zM355 299h1v1h-1zM317 306h1v1h-1zM361 304h1v1h-1zM322 313h1v1h-1zM317 311h1v1h-1zM331 310h1v1h-1zM348 307h1v1h-1zM355 305h1v1h-1zM340 303h1v1h-1zM349 309h1v1h-1zM337 305h1v1h-1zM346 307h1v1h-1zM318 304h1v1h-1zM341 305h1v1h-1zM358 310h1v1h-1zM337 308h1v1h-1zM356 311h1v1h-1zM353 307h1v1h-1zM351 306h1v1h-1zM344 306h1v1h-1zM343 308h1v1h-1zM345 301h1v1h-1zM339 307h1v1h-1zM346 304h1v1h-1zM360 307h1v1h-1zM322 312h1v1h-1zM347 305h1v1h-1zM334 307h1v1h-1zM349 306h1v1h-1zM332 305h1v1h-1zM349 304h1v1h-1zM324 312h1v1h-1zM347 308h1v1h-1zM335 303h1v1h-1zM353 305h1v1h-1zM342 313h1v1h-1zM351 300h1v1h-1zM355 310h1v1h-1zM353 316h1v1h-1zM353 311h1v1h-1zM340 305h1v1h-1zM336 306h1v1h-1zM352 308h1v1h-1zM354 309h1v1h-1zM329 300h1v1h-1zM341 311h1v1h-1zM338 304h1v1h-1zM337 310h1v1h-1zM348 304h1v1h-1zM338 310h1v1h-1zM343 309h1v1h-1zM323 311h1v1h-1zM359 311h1v1h-1zM328 307h1v1h-1zM346 310h1v1h-1zM334 305h1v1h-1zM353 308h1v1h-1zM332 308h1v1h-1zM362 305h1v1h-1zM357 305h1v1h-1zM341 303h1v1h-1zM329 301h1v1h-1zM336 301h1v1h-1zM333 305h1v1h-1zM352 307h1v1h-1zM346 309h1v1h-1zM348 310h1v1h-1zM358 315h1v1h-1zM344 307h1v1h-1zM342 304h1v1h-1zM345 305h1v1h-1zM368 309h1v1h-1zM339 304h1v1h-1zM321 306h1v1h-1zM344 308h1v1h-1zM343 303h1v1h-1zM351 314h1v1h-1zM335 309h1v1h-1zM325 315h1v1h-1zM360 311h1v1h-1zM334 306h1v1h-1zM333 309h1v1h-1zM336 304h1v1h-1zM339 308h1v1h-1zM343 310h1v1h-1zM361 260h1v1h-1zM357 278h1v1h-1zM362 256h1v1h-1zM356 267h1v1h-1zM364 264h1v1h-1zM358 253h1v1h-1zM349 264h1v1h-1zM357 248h1v1h-1zM360 259h1v1h-1zM364 261h1v1h-1zM352 275h1v1h-1zM354 271h1v1h-1zM363 246h1v1h-1zM352 251h1v1h-1zM361 255h1v1h-1zM365 274h1v1h-1zM361 267h1v1h-1zM360 270h1v1h-1zM358 259h1v1h-1zM352 262h1v1h-1zM355 243h1v1h-1zM357 259h1v1h-1zM353 270h1v1h-1zM359 279h1v1h-1zM353 269h1v1h-1zM356 274h1v1h-1zM358 258h1v1h-1zM353 261h1v1h-1zM361 266h1v1h-1zM355 251h1v1h-1zM364 263h1v1h-1zM365 256h1v1h-1zM356 242h1v1h-1zM364 250h1v1h-1zM354 269h1v1h-1zM358 260h1v1h-1zM349 273h1v1h-1zM354 273h1v1h-1zM352 273h1v1h-1zM348 271h1v1h-1zM344 275h1v1h-1zM355 274h1v1h-1zM358 280h1v1h-1zM348 263h1v1h-1zM357 255h1v1h-1zM365 255h1v1h-1zM355 275h1v1h-1zM353 271h1v1h-1z" fill="#6a6a6a"/>
<path d="M360 254h1v1h-1zM358 253h1v1h-1zM355 251h1v1h-1zM356 259h1v1h-1zM357 252h1v1h-1zM360 256h1v1h-1zM352 253h1v1h-1zM354 256h1v1h-1zM355 252h1v1h-1zM357 258h1v1h-1zM358 256h1v1h-1zM354 251h1v1h-1zM355 256h1v1h-1zM358 262h1v1h-1zM357 254h1v1h-1zM350 244h1v1h-1zM350 254h1v1h-1zM360 262h1v1h-1zM358 257h1v1h-1zM357 255h1v1h-1zM355 262h1v1h-1zM359 264h1v1h-1zM363 266h1v1h-1zM357 250h1v1h-1zM360 250h1v1h-1zM355 258h1v1h-1zM354 258h1v1h-1zM357 251h1v1h-1zM354 254h1v1h-1zM356 256h1v1h-1zM352 254h1v1h-1zM350 251h1v1h-1zM354 255h1v1h-1zM359 260h1v1h-1zM357 257h1v1h-1zM356 252h1v1h-1zM355 254h1v1h-1zM352 250h1v1h-1zM353 260h1v1h-1zM355 245h1v1h-1zM353 251h1v1h-1zM354 260h1v1h-1zM357 259h1v1h-1zM362 253h1v1h-1zM351 248h1v1h-1zM361 256h1v1h-1zM354 253h1v1h-1zM359 250h1v1h-1zM356 258h1v1h-1zM351 257h1v1h-1zM358 261h1v1h-1zM352 249h1v1h-1zM357 253h1v1h-1zM353 258h1v1h-1zM353 249h1v1h-1zM356 253h1v1h-1zM357 260h1v1h-1zM361 249h1v1h-1zM359 259h1v1h-1zM357 256h1v1h-1zM361 266h1v1h-1zM352 251h1v1h-1zM353 259h1v1h-1zM359 257h1v1h-1zM363 261h1v1h-1zM356 250h1v1h-1zM362 259h1v1h-1zM354 245h1v1h-1zM359 251h1v1h-1zM352 257h1v1h-1zM362 261h1v1h-1zM356 255h1v1h-1zM356 263h1v1h-1zM354 262h1v1h-1zM355 255h1v1h-1zM351 249h1v1h-1zM358 258h1v1h-1zM360 260h1v1h-1zM355 250h1v1h-1zM361 257h1v1h-1zM359 255h1v1h-1zM358 260h1v1h-1zM353 247h1v1h-1zM357 249h1v1h-1zM362 262h1v1h-1zM354 257h1v1h-1zM355 260h1v1h-1zM355 249h1v1h-1zM357 262h1v1h-1zM356 261h1v1h-1zM360 252h1v1h-1zM352 245h1v1h-1zM353 248h1v1h-1zM359 258h1v1h-1zM354 252h1v1h-1zM359 253h1v1h-1zM355 253h1v1h-1zM353 253h1v1h-1zM354 250h1v1h-1zM355 264h1v1h-1zM348 257h1v1h-1zM356 257h1v1h-1zM360 257h1v1h-1zM355 259h1v1h-1zM355 246h1v1h-1zM353 250h1v1h-1zM358 266h1v1h-1zM358 255h1v1h-1zM356 254h1v1h-1zM354 259h1v1h-1zM351 252h1v1h-1zM353 264h1v1h-1zM352 246h1v1h-1zM360 261h1v1h-1zM360 258h1v1h-1zM361 267h1v1h-1zM358 251h1v1h-1zM356 248h1v1h-1zM363 269h1v1h-1zM355 248h1v1h-1zM352 259h1v1h-1zM358 248h1v1h-1zM360 265h1v1h-1zM358 254h1v1h-1zM353 256h1v1h-1zM360 255h1v1h-1zM358 259h1v1h-1zM349 258h1v1h-1zM353 252h1v1h-1zM358 264h1v1h-1zM365 261h1v1h-1zM351 253h1v1h-1zM357 247h1v1h-1zM355 263h1v1h-1zM361 261h1v1h-1zM364 257h1v1h-1zM362 263h1v1h-1zM360 259h1v1h-1zM354 249h1v1h-1zM352 248h1v1h-1zM357 261h1v1h-1zM356 249h1v1h-1zM350 253h1v1h-1zM356 260h1v1h-1zM354 246h1v1h-1zM364 256h1v1h-1zM359 256h1v1h-1zM361 258h1v1h-1zM349 252h1v1h-1zM354 261h1v1h-1zM358 252h1v1h-1zM353 255h1v1h-1zM356 262h1v1h-1zM359 266h1v1h-1zM355 257h1v1h-1zM352 256h1v1h-1zM356 251h1v1h-1zM358 250h1v1h-1zM362 254h1v1h-1zM359 252h1v1h-1zM352 255h1v1h-1zM359 262h1v1h-1zM349 246h1v1h-1zM357 264h1v1h-1zM351 245h1v1h-1zM354 244h1v1h-1zM349 255h1v1h-1zM360 248h1v1h-1zM359 249h1v1h-1zM351 254h1v1h-1zM351 255h1v1h-1zM359 265h1v1h-1zM360 251h1v1h-1zM351 251h1v1h-1zM361 260h1v1h-1zM360 253h1v1h-1zM354 248h1v1h-1zM355 261h1v1h-1zM363 254h1v1h-1zM362 256h1v1h-1zM352 260h1v1h-1zM359 254h1v1h-1zM359 267h1v1h-1zM358 265h1v1h-1zM355 244h1v1h-1zM362 255h1v1h-1zM359 248h1v1h-1zM361 253h1v1h-1zM353 263h1v1h-1zM359 261h1v1h-1zM356 265h1v1h-1zM351 244h1v1h-1zM353 254h1v1h-1zM366 262h1v1h-1zM349 247h1v1h-1zM359 263h1v1h-1z" fill="#282828"/>
<polygon points="312.1,208.6 395.1,208.6 382,296.4 318.4,296.4" fill="none" stroke="#222" stroke-width="1"/>
<polygon points="312.4,296.6 368.6,296.6 368.4,305 367.4,312.5 355.3,330.6 314.6,330.6" fill="none" stroke="#222" stroke-width="1"/>
<line x1="294.6" y1="208.6" x2="442.5" y2="208.6" stroke="#444" stroke-width="1.1"/>
<line x1="442.5" y1="208.6" x2="442.5" y2="338.3" stroke="#555" stroke-width="1.2"/>
<line x1="294.6" y1="208.1" x2="294.6" y2="338.8" stroke="#333" stroke-width="1.2"/>
<line x1="294.1" y1="338.3" x2="443" y2="338.3" stroke="#333" stroke-width="1.2"/>
<line x1="291.6" y1="338.3" x2="294.6" y2="338.3" stroke="#111" stroke-width="0.8"/>
<line x1="293" y1="328.5" x2="294.6" y2="328.5" stroke="#111" stroke-width="0.8"/>
<line x1="293" y1="322.8" x2="294.6" y2="322.8" stroke="#111" stroke-width="0.8"/>
<line x1="293" y1="318.8" x2="294.6" y2="318.8" stroke="#111" stroke-width="0.8"/>
<line x1="293" y1="315.6" x2="294.6" y2="315.6" stroke="#111" stroke-width="0.8"/>
<line x1="293" y1="313.1" x2="294.6" y2="313.1" stroke="#111" stroke-width="0.8"/>
<line x1="293" y1="310.9" x2="294.6" y2="310.9" stroke="#111" stroke-width="0.8"/>
<line x1="293" y1="309" x2="294.6" y2="309" stroke="#111" stroke-width="0.8"/>
<line x1="293" y1="307.4" x2="294.6" y2="307.4" stroke="#111" stroke-width="0.8"/>
<line x1="291.6" y1="305.9" x2="294.6" y2="305.9" stroke="#111" stroke-width="0.8"/>
<line x1="293" y1="296.1" x2="294.6" y2="296.1" stroke="#111" stroke-width="0.8"/>
<line x1="293" y1="290.4" x2="294.6" y2="290.4" stroke="#111" stroke-width="0.8"/>
<line x1="293" y1="286.4" x2="294.6" y2="286.4" stroke="#111" stroke-width="0.8"/>
<line x1="293" y1="283.2" x2="294.6" y2="283.2" stroke="#111" stroke-width="0.8"/>
<line x1="293" y1="280.6" x2="294.6" y2="280.6" stroke="#111" stroke-width="0.8"/>
<line x1="293" y1="278.5" x2="294.6" y2="278.5" stroke="#111" stroke-width="0.8"/>
<line x1="293" y1="276.6" x2="294.6" y2="276.6" stroke="#111" stroke-width="0.8"/>
<line x1="293" y1="274.9" x2="294.6" y2="274.9" stroke="#111" stroke-width="0.8"/>
<line x1="291.6" y1="273.4" x2="294.6" y2="273.4" stroke="#111" stroke-width="0.8"/>
<line x1="293" y1="263.7" x2="294.6" y2="263.7" stroke="#111" stroke-width="0.8"/>
<line x1="293" y1="258" x2="294.6" y2="258" stroke="#111" stroke-width="0.8"/>
<line x1="293" y1="253.9" x2="294.6" y2="253.9" stroke="#111" stroke-width="0.8"/>
<line x1="293" y1="250.8" x2="294.6" y2="250.8" stroke="#111" stroke-width="0.8"/>
<line x1="293" y1="248.2" x2="294.6" y2="248.2" stroke="#111" stroke-width="0.8"/>
<line x1="293" y1="246" x2="294.6" y2="246" stroke="#111" stroke-width="0.8"/>
<line x1="293" y1="244.2" x2="294.6" y2="244.2" stroke="#111" stroke-width="0.8"/>
<line x1="293" y1="242.5" x2="294.6" y2="242.5" stroke="#111" stroke-width="0.8"/>
<line x1="291.6" y1="241" x2="294.6" y2="241" stroke="#111" stroke-width="0.8"/>
<line x1="293" y1="231.3" x2="294.6" y2="231.3" stroke="#111" stroke-width="0.8"/>
<line x1="293" y1="225.6" x2="294.6" y2="225.6" stroke="#111" stroke-width="0.8"/>
<line x1="293" y1="221.5" x2="294.6" y2="221.5" stroke="#111" stroke-width="0.8"/>
<line x1="293" y1="218.4" x2="294.6" y2="218.4" stroke="#111" stroke-width="0.8"/>
<line x1="293" y1="215.8" x2="294.6" y2="215.8" stroke="#111" stroke-width="0.8"/>
<line x1="293" y1="213.6" x2="294.6" y2="213.6" stroke="#111" stroke-width="0.8"/>
<line x1="293" y1="211.7" x2="294.6" y2="211.7" stroke="#111" stroke-width="0.8"/>
<line x1="293" y1="210.1" x2="294.6" y2="210.1" stroke="#111" stroke-width="0.8"/>
<line x1="291.6" y1="208.6" x2="294.6" y2="208.6" stroke="#111" stroke-width="0.8"/>
<line x1="294.6" y1="338.3" x2="294.6" y2="341.3" stroke="#111" stroke-width="0.8"/>
<line x1="300.4" y1="338.3" x2="300.4" y2="340.3" stroke="#111" stroke-width="0.8"/>
<line x1="306.2" y1="338.3" x2="306.2" y2="340.3" stroke="#111" stroke-width="0.8"/>
<line x1="311.9" y1="338.3" x2="311.9" y2="340.3" stroke="#111" stroke-width="0.8"/>
<line x1="317.7" y1="338.3" x2="317.7" y2="340.3" stroke="#111" stroke-width="0.8"/>
<line x1="323.5" y1="338.3" x2="323.5" y2="341.3" stroke="#111" stroke-width="0.8"/>
<line x1="329.3" y1="338.3" x2="329.3" y2="340.3" stroke="#111" stroke-width="0.8"/>
<line x1="335" y1="338.3" x2="335" y2="340.3" stroke="#111" stroke-width="0.8"/>
<line x1="340.8" y1="338.3" x2="340.8" y2="340.3" stroke="#111" stroke-width="0.8"/>
<line x1="346.6" y1="338.3" x2="346.6" y2="340.3" stroke="#111" stroke-width="0.8"/>
<line x1="352.4" y1="338.3" x2="352.4" y2="341.3" stroke="#111" stroke-width="0.8"/>
<line x1="358.1" y1="338.3" x2="358.1" y2="340.3" stroke="#111" stroke-width="0.8"/>
<line x1="363.9" y1="338.3" x2="363.9" y2="340.3" stroke="#111" stroke-width="0.8"/>
<line x1="369.7" y1="338.3" x2="369.7" y2="340.3" stroke="#111" stroke-width="0.8"/>
<line x1="375.5" y1="338.3" x2="375.5" y2="340.3" stroke="#111" stroke-width="0.8"/>
<line x1="381.2" y1="338.3" x2="381.2" y2="341.3" stroke="#111" stroke-width="0.8"/>
<line x1="387" y1="338.3" x2="387" y2="340.3" stroke="#111" stroke-width="0.8"/>
<line x1="392.8" y1="338.3" x2="392.8" y2="340.3" stroke="#111" stroke-width="0.8"/>
<line x1="398.6" y1="338.3" x2="398.6" y2="340.3" stroke="#111" stroke-width="0.8"/>
<line x1="404.3" y1="338.3" x2="404.3" y2="340.3" stroke="#111" stroke-width="0.8"/>
<line x1="410.1" y1="338.3" x2="410.1" y2="341.3" stroke="#111" stroke-width="0.8"/>
<line x1="415.9" y1="338.3" x2="415.9" y2="340.3" stroke="#111" stroke-width="0.8"/>
<line x1="421.7" y1="338.3" x2="421.7" y2="340.3" stroke="#111" stroke-width="0.8"/>
<line x1="427.4" y1="338.3" x2="427.4" y2="340.3" stroke="#111" stroke-width="0.8"/>
<line x1="433.2" y1="338.3" x2="433.2" y2="340.3" stroke="#111" stroke-width="0.8"/>
<line x1="439" y1="338.3" x2="439" y2="341.3" stroke="#111" stroke-width="0.8"/>
<text class="b" transform="translate(287.9,337.2) rotate(-90)" text-anchor="middle" font-size="11">10<tspan font-size="10.6" dx="0.9" dy="-6.9">0</tspan></text>
<text class="b" transform="translate(287.9,304.8) rotate(-90)" text-anchor="middle" font-size="11">10<tspan font-size="10.6" dx="0.9" dy="-6.9">1</tspan></text>
<text class="b" transform="translate(287.9,272.3) rotate(-90)" text-anchor="middle" font-size="11">10<tspan font-size="10.6" dx="0.9" dy="-6.9">2</tspan></text>
<text class="b" transform="translate(287.9,239.9) rotate(-90)" text-anchor="middle" font-size="11">10<tspan font-size="10.6" dx="0.9" dy="-6.9">3</tspan></text>
<text class="b" transform="translate(287.9,207.5) rotate(-90)" text-anchor="middle" font-size="11">10<tspan font-size="10.6" dx="0.9" dy="-6.9">4</tspan></text>
<text x="296.5" y="354" font-size="11.5" textLength="7.4" lengthAdjust="spacingAndGlyphs" text-anchor="middle" class="b">0</text>
<text x="325" y="354" font-size="11.5" textLength="22.2" lengthAdjust="spacingAndGlyphs" text-anchor="middle" class="b">200</text>
<text x="353.4" y="354" font-size="11.5" textLength="22.2" lengthAdjust="spacingAndGlyphs" text-anchor="middle" class="b">400</text>
<text x="381.9" y="354" font-size="11.5" textLength="22.2" lengthAdjust="spacingAndGlyphs" text-anchor="middle" class="b">600</text>
<text x="410.3" y="354" font-size="11.5" textLength="22.2" lengthAdjust="spacingAndGlyphs" text-anchor="middle" class="b">800</text>
<text x="438.8" y="354" font-size="11.5" textLength="29.6" lengthAdjust="spacingAndGlyphs" text-anchor="middle" class="b">1000</text>
<text x="355.2" y="221.6" font-size="11.6" textLength="16.8" lengthAdjust="spacingAndGlyphs" class="m">R3</text>
<text x="367.8" y="325.8" font-size="11.6" textLength="17.6" lengthAdjust="spacingAndGlyphs" class="m">R2</text>
<text transform="translate(262.6,270.8) rotate(-90)" text-anchor="middle" font-size="12.6" textLength="31.6" lengthAdjust="spacingAndGlyphs" class="b">FL1-H</text>
<text x="348.3" y="369.6" font-size="12.4" textLength="36" lengthAdjust="spacingAndGlyphs" class="b">FL2-A</text>
<line x1="401.8" y1="251.8" x2="460.3" y2="251.8" stroke="#111" stroke-width="1.3"/>
<polygon points="392.5,251.8 402.8,247.6 402.8,256" fill="#111" stroke="none" stroke-width="1"/>
<text x="465.5" y="249.8" font-size="10.2">Nocodazole</text>
<text x="465.5" y="262.2" font-size="10.2">M: 87%</text>
<path d="M386 505h1v1h-1zM399 499h1v1h-1zM405 504h1v1h-1zM404 496h1v1h-1zM398 500h1v1h-1zM391 504h1v1h-1zM397 507h1v1h-1zM393 499h1v1h-1zM393 496h1v1h-1zM374 501h1v1h-1zM379 504h1v1h-1zM378 499h1v1h-1zM390 503h1v1h-1zM396 504h1v1h-1zM376 497h1v1h-1zM407 502h1v1h-1zM377 501h1v1h-1zM371 502h1v1h-1zM396 500h1v1h-1zM385 504h1v1h-1zM385 502h1v1h-1zM383 506h1v1h-1zM371 501h1v1h-1zM373 498h1v1h-1zM402 495h1v1h-1zM373 503h1v1h-1zM404 501h1v1h-1zM397 500h1v1h-1zM389 494h1v1h-1zM383 498h1v1h-1zM402 496h1v1h-1zM401 493h1v1h-1zM380 497h1v1h-1zM384 499h1v1h-1zM387 495h1v1h-1zM404 504h1v1h-1zM390 497h1v1h-1zM382 500h1v1h-1zM389 503h1v1h-1zM408 496h1v1h-1zM384 503h1v1h-1zM402 501h1v1h-1zM376 504h1v1h-1zM372 504h1v1h-1zM388 496h1v1h-1zM369 502h1v1h-1zM394 504h1v1h-1zM397 501h1v1h-1zM374 503h1v1h-1zM368 507h1v1h-1zM385 507h1v1h-1zM386 498h1v1h-1zM384 506h1v1h-1zM372 500h1v1h-1zM393 498h1v1h-1zM406 508h1v1h-1zM382 505h1v1h-1zM387 502h1v1h-1zM396 494h1v1h-1zM389 497h1v1h-1zM395 499h1v1h-1zM371 497h1v1h-1zM400 502h1v1h-1zM400 497h1v1h-1zM384 495h1v1h-1zM381 508h1v1h-1zM392 496h1v1h-1zM390 502h1v1h-1zM398 495h1v1h-1zM375 501h1v1h-1zM396 499h1v1h-1zM413 500h1v1h-1zM375 498h1v1h-1zM423 495h1v1h-1zM409 504h1v1h-1zM379 499h1v1h-1zM389 499h1v1h-1zM397 492h1v1h-1zM419 496h1v1h-1zM400 501h1v1h-1zM390 499h1v1h-1zM328 501h1v1h-1zM343 530h1v1h-1zM338 524h1v1h-1zM314 510h1v1h-1zM364 529h1v1h-1zM324 501h1v1h-1zM325 528h1v1h-1zM317 505h1v1h-1zM328 511h1v1h-1zM354 514h1v1h-1zM354 512h1v1h-1zM356 508h1v1h-1zM344 509h1v1h-1zM333 502h1v1h-1zM358 508h1v1h-1zM363 518h1v1h-1zM316 526h1v1h-1zM357 516h1v1h-1zM325 525h1v1h-1zM326 527h1v1h-1zM359 499h1v1h-1zM329 529h1v1h-1zM355 504h1v1h-1zM334 527h1v1h-1zM311 501h1v1h-1zM350 509h1v1h-1zM346 510h1v1h-1zM338 519h1v1h-1zM351 500h1v1h-1zM343 529h1v1h-1zM364 499h1v1h-1zM339 503h1v1h-1zM365 505h1v1h-1zM361 510h1v1h-1zM362 499h1v1h-1zM340 516h1v1h-1zM333 506h1v1h-1zM356 499h1v1h-1zM357 526h1v1h-1zM356 518h1v1h-1zM333 512h1v1h-1zM324 505h1v1h-1zM339 498h1v1h-1zM310 519h1v1h-1zM364 520h1v1h-1zM315 500h1v1h-1zM313 516h1v1h-1zM352 512h1v1h-1zM313 528h1v1h-1zM354 502h1v1h-1zM358 527h1v1h-1zM327 515h1v1h-1zM310 508h1v1h-1zM321 528h1v1h-1zM351 505h1v1h-1zM352 500h1v1h-1zM356 527h1v1h-1zM327 506h1v1h-1zM335 509h1v1h-1zM349 512h1v1h-1zM341 499h1v1h-1zM320 502h1v1h-1zM321 497h1v1h-1zM339 517h1v1h-1zM326 528h1v1h-1zM327 513h1v1h-1zM346 518h1v1h-1zM362 498h1v1h-1zM307 419h1v1h-1zM310 458h1v1h-1zM377 510h1v1h-1zM424 487h1v1h-1zM375 468h1v1h-1zM327 438h1v1h-1zM348 425h1v1h-1zM389 442h1v1h-1zM441 453h1v1h-1zM409 444h1v1h-1zM329 467h1v1h-1zM375 536h1v1h-1zM320 413h1v1h-1zM307 521h1v1h-1zM304 532h1v1h-1zM322 529h1v1h-1zM347 528h1v1h-1zM363 458h1v1h-1zM296 462h1v1h-1zM363 531h1v1h-1z" fill="#aaa"/>
<path d="M322 513h1v1h-1zM320 516h1v1h-1zM321 515h1v1h-1zM323 508h1v1h-1zM319 524h1v1h-1zM321 512h1v1h-1zM322 506h1v1h-1zM321 510h1v1h-1zM322 505h1v1h-1zM321 520h1v1h-1zM322 507h1v1h-1zM321 507h1v1h-1zM320 523h1v1h-1zM319 519h1v1h-1zM324 506h1v1h-1zM321 509h1v1h-1zM321 525h1v1h-1zM320 508h1v1h-1zM322 515h1v1h-1zM323 503h1v1h-1zM324 504h1v1h-1zM318 524h1v1h-1zM319 521h1v1h-1zM322 520h1v1h-1zM323 511h1v1h-1zM321 511h1v1h-1zM322 503h1v1h-1zM318 522h1v1h-1zM324 512h1v1h-1zM323 523h1v1h-1zM322 508h1v1h-1zM324 511h1v1h-1zM322 504h1v1h-1zM321 505h1v1h-1zM321 503h1v1h-1zM322 524h1v1h-1zM322 519h1v1h-1zM322 522h1v1h-1zM321 524h1v1h-1zM320 517h1v1h-1zM317 513h1v1h-1zM320 512h1v1h-1zM321 513h1v1h-1zM323 505h1v1h-1zM319 522h1v1h-1zM321 504h1v1h-1zM322 509h1v1h-1zM322 502h1v1h-1zM322 514h1v1h-1zM320 519h1v1h-1zM323 509h1v1h-1zM321 517h1v1h-1zM320 520h1v1h-1zM324 507h1v1h-1zM320 518h1v1h-1zM321 521h1v1h-1zM320 509h1v1h-1zM322 517h1v1h-1zM319 523h1v1h-1zM321 522h1v1h-1zM320 506h1v1h-1zM318 521h1v1h-1zM321 519h1v1h-1zM320 503h1v1h-1zM323 510h1v1h-1zM322 512h1v1h-1zM319 516h1v1h-1zM320 510h1v1h-1zM319 514h1v1h-1zM320 515h1v1h-1zM317 523h1v1h-1zM318 510h1v1h-1zM321 514h1v1h-1zM320 521h1v1h-1zM319 510h1v1h-1zM322 511h1v1h-1zM322 510h1v1h-1zM324 502h1v1h-1zM321 508h1v1h-1zM320 522h1v1h-1zM324 513h1v1h-1zM319 509h1v1h-1zM318 520h1v1h-1zM320 513h1v1h-1zM321 523h1v1h-1zM323 513h1v1h-1zM319 526h1v1h-1zM324 518h1v1h-1zM323 521h1v1h-1zM319 525h1v1h-1zM324 509h1v1h-1zM324 508h1v1h-1zM318 513h1v1h-1zM321 518h1v1h-1zM318 512h1v1h-1zM320 524h1v1h-1zM319 503h1v1h-1zM318 523h1v1h-1zM320 511h1v1h-1zM322 516h1v1h-1zM322 501h1v1h-1zM318 516h1v1h-1zM322 518h1v1h-1zM322 523h1v1h-1zM319 520h1v1h-1zM324 503h1v1h-1zM323 507h1v1h-1zM323 512h1v1h-1zM320 507h1v1h-1zM317 520h1v1h-1zM317 524h1v1h-1zM326 521h1v1h-1zM325 508h1v1h-1zM325 514h1v1h-1zM323 514h1v1h-1zM319 513h1v1h-1zM320 504h1v1h-1zM317 519h1v1h-1zM324 510h1v1h-1zM323 506h1v1h-1zM318 519h1v1h-1zM325 510h1v1h-1zM322 521h1v1h-1zM341 509h1v1h-1zM346 502h1v1h-1zM351 500h1v1h-1zM349 502h1v1h-1zM337 508h1v1h-1zM345 506h1v1h-1zM348 505h1v1h-1zM331 507h1v1h-1zM332 505h1v1h-1zM334 509h1v1h-1zM351 508h1v1h-1zM347 503h1v1h-1zM339 511h1v1h-1zM337 513h1v1h-1zM351 498h1v1h-1zM336 513h1v1h-1zM350 503h1v1h-1zM353 503h1v1h-1zM353 501h1v1h-1zM345 512h1v1h-1zM345 503h1v1h-1zM337 511h1v1h-1zM342 504h1v1h-1zM336 511h1v1h-1zM345 501h1v1h-1zM341 501h1v1h-1zM335 509h1v1h-1zM336 506h1v1h-1zM353 498h1v1h-1zM352 497h1v1h-1zM357 500h1v1h-1zM353 499h1v1h-1zM333 506h1v1h-1zM338 512h1v1h-1zM347 505h1v1h-1zM342 506h1v1h-1zM340 503h1v1h-1zM338 509h1v1h-1zM338 506h1v1h-1zM349 497h1v1h-1zM347 504h1v1h-1zM338 505h1v1h-1zM339 505h1v1h-1zM333 510h1v1h-1zM342 505h1v1h-1zM336 507h1v1h-1zM337 504h1v1h-1zM343 504h1v1h-1zM340 507h1v1h-1zM332 508h1v1h-1zM331 512h1v1h-1zM343 502h1v1h-1zM344 503h1v1h-1zM336 514h1v1h-1zM349 499h1v1h-1zM340 502h1v1h-1zM339 502h1v1h-1zM353 504h1v1h-1zM336 508h1v1h-1zM334 508h1v1h-1zM341 506h1v1h-1zM342 511h1v1h-1zM342 501h1v1h-1zM336 509h1v1h-1zM350 501h1v1h-1zM337 510h1v1h-1zM355 499h1v1h-1zM342 509h1v1h-1zM346 500h1v1h-1zM331 514h1v1h-1zM344 504h1v1h-1zM351 502h1v1h-1zM331 504h1v1h-1zM338 508h1v1h-1zM349 505h1v1h-1zM352 500h1v1h-1zM340 500h1v1h-1zM336 504h1v1h-1zM329 505h1v1h-1zM338 507h1v1h-1zM350 495h1v1h-1zM352 498h1v1h-1zM346 503h1v1h-1zM340 506h1v1h-1zM335 505h1v1h-1zM348 502h1v1h-1zM352 499h1v1h-1zM337 506h1v1h-1zM335 511h1v1h-1zM345 509h1v1h-1zM336 512h1v1h-1zM339 510h1v1h-1zM332 514h1v1h-1zM351 499h1v1h-1zM339 500h1v1h-1zM354 496h1v1h-1zM350 496h1v1h-1zM342 499h1v1h-1zM341 507h1v1h-1zM352 493h1v1h-1zM343 501h1v1h-1zM333 511h1v1h-1zM351 503h1v1h-1zM335 503h1v1h-1zM338 504h1v1h-1zM342 510h1v1h-1zM343 498h1v1h-1zM329 511h1v1h-1zM338 503h1v1h-1zM353 497h1v1h-1zM341 502h1v1h-1zM343 503h1v1h-1zM336 503h1v1h-1zM337 509h1v1h-1zM347 501h1v1h-1zM351 501h1v1h-1zM352 501h1v1h-1zM355 498h1v1h-1zM333 509h1v1h-1zM345 507h1v1h-1zM334 505h1v1h-1zM330 509h1v1h-1zM350 504h1v1h-1zM354 501h1v1h-1zM353 502h1v1h-1zM335 507h1v1h-1zM330 518h1v1h-1zM339 508h1v1h-1zM333 512h1v1h-1zM332 509h1v1h-1zM347 506h1v1h-1zM348 508h1v1h-1zM344 506h1v1h-1zM345 505h1v1h-1zM333 507h1v1h-1zM354 497h1v1h-1zM342 507h1v1h-1zM339 506h1v1h-1zM349 501h1v1h-1zM351 504h1v1h-1zM340 508h1v1h-1zM353 500h1v1h-1zM343 508h1v1h-1zM337 502h1v1h-1zM338 510h1v1h-1zM340 510h1v1h-1zM341 508h1v1h-1zM341 499h1v1h-1zM350 502h1v1h-1zM347 507h1v1h-1zM340 504h1v1h-1zM329 512h1v1h-1zM335 512h1v1h-1zM342 500h1v1h-1zM331 509h1v1h-1zM358 499h1v1h-1zM341 503h1v1h-1zM331 506h1v1h-1zM333 505h1v1h-1zM334 507h1v1h-1zM346 501h1v1h-1zM344 501h1v1h-1zM350 497h1v1h-1zM352 506h1v1h-1zM327 512h1v1h-1zM349 500h1v1h-1zM343 500h1v1h-1zM335 502h1v1h-1zM335 504h1v1h-1zM332 504h1v1h-1zM330 516h1v1h-1zM351 497h1v1h-1zM344 498h1v1h-1zM341 500h1v1h-1zM348 501h1v1h-1zM345 504h1v1h-1zM348 504h1v1h-1zM339 509h1v1h-1zM339 504h1v1h-1zM330 512h1v1h-1zM340 505h1v1h-1zM352 505h1v1h-1zM347 502h1v1h-1zM346 506h1v1h-1zM344 510h1v1h-1zM352 502h1v1h-1zM346 505h1v1h-1zM329 504h1v1h-1zM338 500h1v1h-1zM330 510h1v1h-1zM330 511h1v1h-1zM341 504h1v1h-1zM349 498h1v1h-1zM338 502h1v1h-1zM348 503h1v1h-1zM347 499h1v1h-1zM343 509h1v1h-1zM356 499h1v1h-1zM334 513h1v1h-1zM350 499h1v1h-1zM340 513h1v1h-1zM345 502h1v1h-1zM331 508h1v1h-1zM349 504h1v1h-1zM339 503h1v1h-1zM355 501h1v1h-1zM328 517h1v1h-1zM344 500h1v1h-1zM343 506h1v1h-1zM335 510h1v1h-1zM351 505h1v1h-1zM355 496h1v1h-1zM335 508h1v1h-1zM349 495h1v1h-1zM336 510h1v1h-1zM353 494h1v1h-1zM339 514h1v1h-1zM348 500h1v1h-1zM336 500h1v1h-1zM330 506h1v1h-1zM337 512h1v1h-1zM334 512h1v1h-1zM349 503h1v1h-1zM343 510h1v1h-1zM337 514h1v1h-1zM332 510h1v1h-1zM344 505h1v1h-1zM327 513h1v1h-1zM332 511h1v1h-1zM334 503h1v1h-1zM353 493h1v1h-1zM337 501h1v1h-1zM330 508h1v1h-1zM346 504h1v1h-1zM337 503h1v1h-1zM344 499h1v1h-1zM333 508h1v1h-1zM332 503h1v1h-1zM350 500h1v1h-1zM329 513h1v1h-1zM338 497h1v1h-1zM344 507h1v1h-1zM329 510h1v1h-1zM330 507h1v1h-1zM343 507h1v1h-1zM354 506h1v1h-1zM333 497h1v1h-1zM351 506h1v1h-1zM339 496h1v1h-1zM334 511h1v1h-1zM345 497h1v1h-1zM355 500h1v1h-1zM334 515h1v1h-1zM343 505h1v1h-1zM336 498h1v1h-1zM354 502h1v1h-1zM351 495h1v1h-1zM340 501h1v1h-1zM356 502h1v1h-1zM346 498h1v1h-1zM334 506h1v1h-1zM355 504h1v1h-1zM337 505h1v1h-1zM330 513h1v1h-1zM340 511h1v1h-1zM331 511h1v1h-1zM336 505h1v1h-1zM348 507h1v1h-1zM334 504h1v1h-1zM350 490h1v1h-1zM350 498h1v1h-1zM335 514h1v1h-1zM354 500h1v1h-1zM341 495h1v1h-1zM333 514h1v1h-1zM345 499h1v1h-1zM340 509h1v1h-1zM354 504h1v1h-1zM342 498h1v1h-1zM331 510h1v1h-1zM333 500h1v1h-1zM351 491h1v1h-1zM329 508h1v1h-1zM348 492h1v1h-1zM335 515h1v1h-1zM338 511h1v1h-1zM338 501h1v1h-1zM335 513h1v1h-1zM358 497h1v1h-1zM345 510h1v1h-1zM327 514h1v1h-1zM349 508h1v1h-1zM345 500h1v1h-1zM352 503h1v1h-1zM354 510h1v1h-1zM354 503h1v1h-1zM347 500h1v1h-1zM351 512h1v1h-1zM348 496h1v1h-1zM342 503h1v1h-1zM348 499h1v1h-1zM342 502h1v1h-1zM343 511h1v1h-1zM346 497h1v1h-1zM347 498h1v1h-1zM350 510h1v1h-1zM360 501h1v1h-1zM344 502h1v1h-1zM356 497h1v1h-1zM341 497h1v1h-1zM351 511h1v1h-1zM348 506h1v1h-1zM353 508h1v1h-1zM350 505h1v1h-1zM359 505h1v1h-1zM339 507h1v1h-1zM360 504h1v1h-1zM352 504h1v1h-1zM342 508h1v1h-1zM338 499h1v1h-1zM350 506h1v1h-1zM354 495h1v1h-1zM352 508h1v1h-1zM355 502h1v1h-1zM355 507h1v1h-1zM350 507h1v1h-1zM345 511h1v1h-1zM355 497h1v1h-1zM358 501h1v1h-1zM343 497h1v1h-1zM359 504h1v1h-1zM346 496h1v1h-1zM343 499h1v1h-1zM343 496h1v1h-1zM341 498h1v1h-1zM349 506h1v1h-1zM349 509h1v1h-1zM352 509h1v1h-1zM347 508h1v1h-1zM349 494h1v1h-1z" fill="#5c5c5c"/>
<path d="M348 512h1v1h-1zM334 511h1v1h-1zM327 515h1v1h-1zM327 521h1v1h-1zM339 506h1v1h-1zM332 506h1v1h-1zM337 516h1v1h-1zM346 513h1v1h-1zM314 522h1v1h-1zM331 512h1v1h-1zM335 512h1v1h-1zM327 514h1v1h-1zM337 501h1v1h-1zM319 513h1v1h-1zM333 514h1v1h-1zM326 520h1v1h-1zM335 514h1v1h-1zM326 513h1v1h-1zM319 509h1v1h-1zM336 512h1v1h-1zM326 519h1v1h-1zM316 521h1v1h-1zM325 521h1v1h-1zM324 510h1v1h-1zM340 510h1v1h-1zM341 513h1v1h-1zM329 515h1v1h-1zM349 513h1v1h-1zM334 507h1v1h-1zM329 509h1v1h-1zM322 510h1v1h-1zM317 512h1v1h-1zM338 509h1v1h-1zM335 521h1v1h-1zM345 511h1v1h-1zM344 523h1v1h-1zM333 512h1v1h-1zM346 517h1v1h-1zM336 503h1v1h-1zM352 511h1v1h-1zM344 510h1v1h-1zM346 509h1v1h-1zM331 514h1v1h-1zM312 518h1v1h-1zM337 507h1v1h-1zM327 506h1v1h-1zM333 521h1v1h-1zM330 520h1v1h-1zM348 515h1v1h-1zM343 509h1v1h-1zM325 509h1v1h-1zM334 514h1v1h-1zM329 521h1v1h-1zM328 517h1v1h-1zM338 510h1v1h-1zM355 502h1v1h-1zM342 518h1v1h-1zM329 516h1v1h-1zM335 509h1v1h-1zM330 518h1v1h-1zM325 512h1v1h-1zM334 519h1v1h-1zM337 505h1v1h-1zM331 519h1v1h-1zM316 508h1v1h-1zM347 511h1v1h-1zM334 518h1v1h-1zM329 510h1v1h-1zM335 515h1v1h-1zM342 519h1v1h-1zM330 510h1v1h-1zM341 509h1v1h-1zM336 514h1v1h-1zM354 512h1v1h-1zM332 514h1v1h-1zM328 506h1v1h-1zM336 518h1v1h-1zM337 510h1v1h-1zM336 521h1v1h-1zM349 516h1v1h-1zM339 513h1v1h-1zM341 506h1v1h-1zM351 510h1v1h-1zM349 515h1v1h-1zM341 508h1v1h-1zM336 517h1v1h-1zM332 511h1v1h-1zM353 517h1v1h-1zM324 518h1v1h-1zM343 518h1v1h-1zM321 522h1v1h-1zM346 522h1v1h-1zM344 521h1v1h-1zM332 515h1v1h-1zM336 510h1v1h-1zM351 511h1v1h-1zM332 505h1v1h-1zM338 515h1v1h-1zM334 523h1v1h-1zM332 509h1v1h-1zM324 519h1v1h-1zM323 522h1v1h-1zM328 509h1v1h-1z" fill="#888"/>
<polygon points="298.6,409.4 383.8,409.4 369.6,493.9 305.2,493.9" fill="none" stroke="#222" stroke-width="1"/>
<polygon points="305.2,494.2 369.3,494.2 368.1,512.3 355.4,531.3 308.1,531.3" fill="none" stroke="#222" stroke-width="1"/>
<line x1="292.2" y1="409.5" x2="448.4" y2="409.5" stroke="#333" stroke-width="1.1"/>
<line x1="448.4" y1="409.5" x2="448.4" y2="540.3" stroke="#555" stroke-width="1.2"/>
<line x1="292.2" y1="409" x2="292.2" y2="540.8" stroke="#333" stroke-width="1.2"/>
<line x1="291.7" y1="540.3" x2="448.9" y2="540.3" stroke="#333" stroke-width="1.2"/>
<line x1="289.2" y1="540.3" x2="292.2" y2="540.3" stroke="#111" stroke-width="0.8"/>
<line x1="290.6" y1="530.5" x2="292.2" y2="530.5" stroke="#111" stroke-width="0.8"/>
<line x1="290.6" y1="524.7" x2="292.2" y2="524.7" stroke="#111" stroke-width="0.8"/>
<line x1="290.6" y1="520.6" x2="292.2" y2="520.6" stroke="#111" stroke-width="0.8"/>
<line x1="290.6" y1="517.4" x2="292.2" y2="517.4" stroke="#111" stroke-width="0.8"/>
<line x1="290.6" y1="514.9" x2="292.2" y2="514.9" stroke="#111" stroke-width="0.8"/>
<line x1="290.6" y1="512.7" x2="292.2" y2="512.7" stroke="#111" stroke-width="0.8"/>
<line x1="290.6" y1="510.8" x2="292.2" y2="510.8" stroke="#111" stroke-width="0.8"/>
<line x1="290.6" y1="509.1" x2="292.2" y2="509.1" stroke="#111" stroke-width="0.8"/>
<line x1="289.2" y1="507.6" x2="292.2" y2="507.6" stroke="#111" stroke-width="0.8"/>
<line x1="290.6" y1="497.8" x2="292.2" y2="497.8" stroke="#111" stroke-width="0.8"/>
<line x1="290.6" y1="492" x2="292.2" y2="492" stroke="#111" stroke-width="0.8"/>
<line x1="290.6" y1="487.9" x2="292.2" y2="487.9" stroke="#111" stroke-width="0.8"/>
<line x1="290.6" y1="484.7" x2="292.2" y2="484.7" stroke="#111" stroke-width="0.8"/>
<line x1="290.6" y1="482.2" x2="292.2" y2="482.2" stroke="#111" stroke-width="0.8"/>
<line x1="290.6" y1="480" x2="292.2" y2="480" stroke="#111" stroke-width="0.8"/>
<line x1="290.6" y1="478.1" x2="292.2" y2="478.1" stroke="#111" stroke-width="0.8"/>
<line x1="290.6" y1="476.4" x2="292.2" y2="476.4" stroke="#111" stroke-width="0.8"/>
<line x1="289.2" y1="474.9" x2="292.2" y2="474.9" stroke="#111" stroke-width="0.8"/>
<line x1="290.6" y1="465.1" x2="292.2" y2="465.1" stroke="#111" stroke-width="0.8"/>
<line x1="290.6" y1="459.3" x2="292.2" y2="459.3" stroke="#111" stroke-width="0.8"/>
<line x1="290.6" y1="455.2" x2="292.2" y2="455.2" stroke="#111" stroke-width="0.8"/>
<line x1="290.6" y1="452" x2="292.2" y2="452" stroke="#111" stroke-width="0.8"/>
<line x1="290.6" y1="449.5" x2="292.2" y2="449.5" stroke="#111" stroke-width="0.8"/>
<line x1="290.6" y1="447.3" x2="292.2" y2="447.3" stroke="#111" stroke-width="0.8"/>
<line x1="290.6" y1="445.4" x2="292.2" y2="445.4" stroke="#111" stroke-width="0.8"/>
<line x1="290.6" y1="443.7" x2="292.2" y2="443.7" stroke="#111" stroke-width="0.8"/>
<line x1="289.2" y1="442.2" x2="292.2" y2="442.2" stroke="#111" stroke-width="0.8"/>
<line x1="290.6" y1="432.4" x2="292.2" y2="432.4" stroke="#111" stroke-width="0.8"/>
<line x1="290.6" y1="426.6" x2="292.2" y2="426.6" stroke="#111" stroke-width="0.8"/>
<line x1="290.6" y1="422.5" x2="292.2" y2="422.5" stroke="#111" stroke-width="0.8"/>
<line x1="290.6" y1="419.3" x2="292.2" y2="419.3" stroke="#111" stroke-width="0.8"/>
<line x1="290.6" y1="416.8" x2="292.2" y2="416.8" stroke="#111" stroke-width="0.8"/>
<line x1="290.6" y1="414.6" x2="292.2" y2="414.6" stroke="#111" stroke-width="0.8"/>
<line x1="290.6" y1="412.7" x2="292.2" y2="412.7" stroke="#111" stroke-width="0.8"/>
<line x1="290.6" y1="411" x2="292.2" y2="411" stroke="#111" stroke-width="0.8"/>
<line x1="289.2" y1="409.5" x2="292.2" y2="409.5" stroke="#111" stroke-width="0.8"/>
<line x1="292.2" y1="540.3" x2="292.2" y2="543.3" stroke="#111" stroke-width="0.8"/>
<line x1="298" y1="540.3" x2="298" y2="542.3" stroke="#111" stroke-width="0.8"/>
<line x1="303.8" y1="540.3" x2="303.8" y2="542.3" stroke="#111" stroke-width="0.8"/>
<line x1="309.5" y1="540.3" x2="309.5" y2="542.3" stroke="#111" stroke-width="0.8"/>
<line x1="315.3" y1="540.3" x2="315.3" y2="542.3" stroke="#111" stroke-width="0.8"/>
<line x1="321.1" y1="540.3" x2="321.1" y2="543.3" stroke="#111" stroke-width="0.8"/>
<line x1="326.9" y1="540.3" x2="326.9" y2="542.3" stroke="#111" stroke-width="0.8"/>
<line x1="332.7" y1="540.3" x2="332.7" y2="542.3" stroke="#111" stroke-width="0.8"/>
<line x1="338.4" y1="540.3" x2="338.4" y2="542.3" stroke="#111" stroke-width="0.8"/>
<line x1="344.2" y1="540.3" x2="344.2" y2="542.3" stroke="#111" stroke-width="0.8"/>
<line x1="350" y1="540.3" x2="350" y2="543.3" stroke="#111" stroke-width="0.8"/>
<line x1="355.8" y1="540.3" x2="355.8" y2="542.3" stroke="#111" stroke-width="0.8"/>
<line x1="361.6" y1="540.3" x2="361.6" y2="542.3" stroke="#111" stroke-width="0.8"/>
<line x1="367.3" y1="540.3" x2="367.3" y2="542.3" stroke="#111" stroke-width="0.8"/>
<line x1="373.1" y1="540.3" x2="373.1" y2="542.3" stroke="#111" stroke-width="0.8"/>
<line x1="378.9" y1="540.3" x2="378.9" y2="543.3" stroke="#111" stroke-width="0.8"/>
<line x1="384.7" y1="540.3" x2="384.7" y2="542.3" stroke="#111" stroke-width="0.8"/>
<line x1="390.5" y1="540.3" x2="390.5" y2="542.3" stroke="#111" stroke-width="0.8"/>
<line x1="396.2" y1="540.3" x2="396.2" y2="542.3" stroke="#111" stroke-width="0.8"/>
<line x1="402" y1="540.3" x2="402" y2="542.3" stroke="#111" stroke-width="0.8"/>
<line x1="407.8" y1="540.3" x2="407.8" y2="543.3" stroke="#111" stroke-width="0.8"/>
<line x1="413.6" y1="540.3" x2="413.6" y2="542.3" stroke="#111" stroke-width="0.8"/>
<line x1="419.4" y1="540.3" x2="419.4" y2="542.3" stroke="#111" stroke-width="0.8"/>
<line x1="425.1" y1="540.3" x2="425.1" y2="542.3" stroke="#111" stroke-width="0.8"/>
<line x1="430.9" y1="540.3" x2="430.9" y2="542.3" stroke="#111" stroke-width="0.8"/>
<line x1="436.7" y1="540.3" x2="436.7" y2="543.3" stroke="#111" stroke-width="0.8"/>
<text class="b" transform="translate(285.6,540.3) rotate(-90)" text-anchor="middle" font-size="11">10<tspan font-size="10.6" dx="0.9" dy="-6.9">0</tspan></text>
<text class="b" transform="translate(285.6,507.6) rotate(-90)" text-anchor="middle" font-size="11">10<tspan font-size="10.6" dx="0.9" dy="-6.9">1</tspan></text>
<text class="b" transform="translate(285.6,474.9) rotate(-90)" text-anchor="middle" font-size="11">10<tspan font-size="10.6" dx="0.9" dy="-6.9">2</tspan></text>
<text class="b" transform="translate(285.6,442.2) rotate(-90)" text-anchor="middle" font-size="11">10<tspan font-size="10.6" dx="0.9" dy="-6.9">3</tspan></text>
<text class="b" transform="translate(285.6,409.5) rotate(-90)" text-anchor="middle" font-size="11">10<tspan font-size="10.6" dx="0.9" dy="-6.9">4</tspan></text>
<text x="295.7" y="554" font-size="11.5" textLength="7.3" lengthAdjust="spacingAndGlyphs" text-anchor="middle" class="b">0</text>
<text x="324.3" y="554" font-size="11.5" textLength="21.9" lengthAdjust="spacingAndGlyphs" text-anchor="middle" class="b">200</text>
<text x="352.8" y="554" font-size="11.5" textLength="21.9" lengthAdjust="spacingAndGlyphs" text-anchor="middle" class="b">400</text>
<text x="381.4" y="554" font-size="11.5" textLength="21.9" lengthAdjust="spacingAndGlyphs" text-anchor="middle" class="b">600</text>
<text x="409.9" y="554" font-size="11.5" textLength="21.9" lengthAdjust="spacingAndGlyphs" text-anchor="middle" class="b">800</text>
<text x="438.5" y="554" font-size="11.5" textLength="29.2" lengthAdjust="spacingAndGlyphs" text-anchor="middle" class="b">1000</text>
<text x="402" y="481.5" font-size="12.6" textLength="18.6" lengthAdjust="spacingAndGlyphs" class="m">R3</text>
<text x="379.5" y="528.5" font-size="12.6" textLength="18.6" lengthAdjust="spacingAndGlyphs" class="m">R2</text>
<text transform="translate(262.2,474.5) rotate(-90)" text-anchor="middle" font-size="12.6" textLength="32.2" lengthAdjust="spacingAndGlyphs" class="b">FL1-H</text>
<text x="347.8" y="570" font-size="11.8" textLength="35" lengthAdjust="spacingAndGlyphs" class="b">FL2-A</text>
<line x1="388" y1="436.6" x2="459.6" y2="436.6" stroke="#111" stroke-width="1.3"/>
<polygon points="379.8,436.6 389,432.4 389,440.8" fill="#111" stroke="none" stroke-width="1"/>
<text x="462.6" y="434.6" font-size="10.2">Tachpyr</text>
<text x="462.6" y="447.3" font-size="10.2">M: 0.03%</text>
</svg></body></html>
